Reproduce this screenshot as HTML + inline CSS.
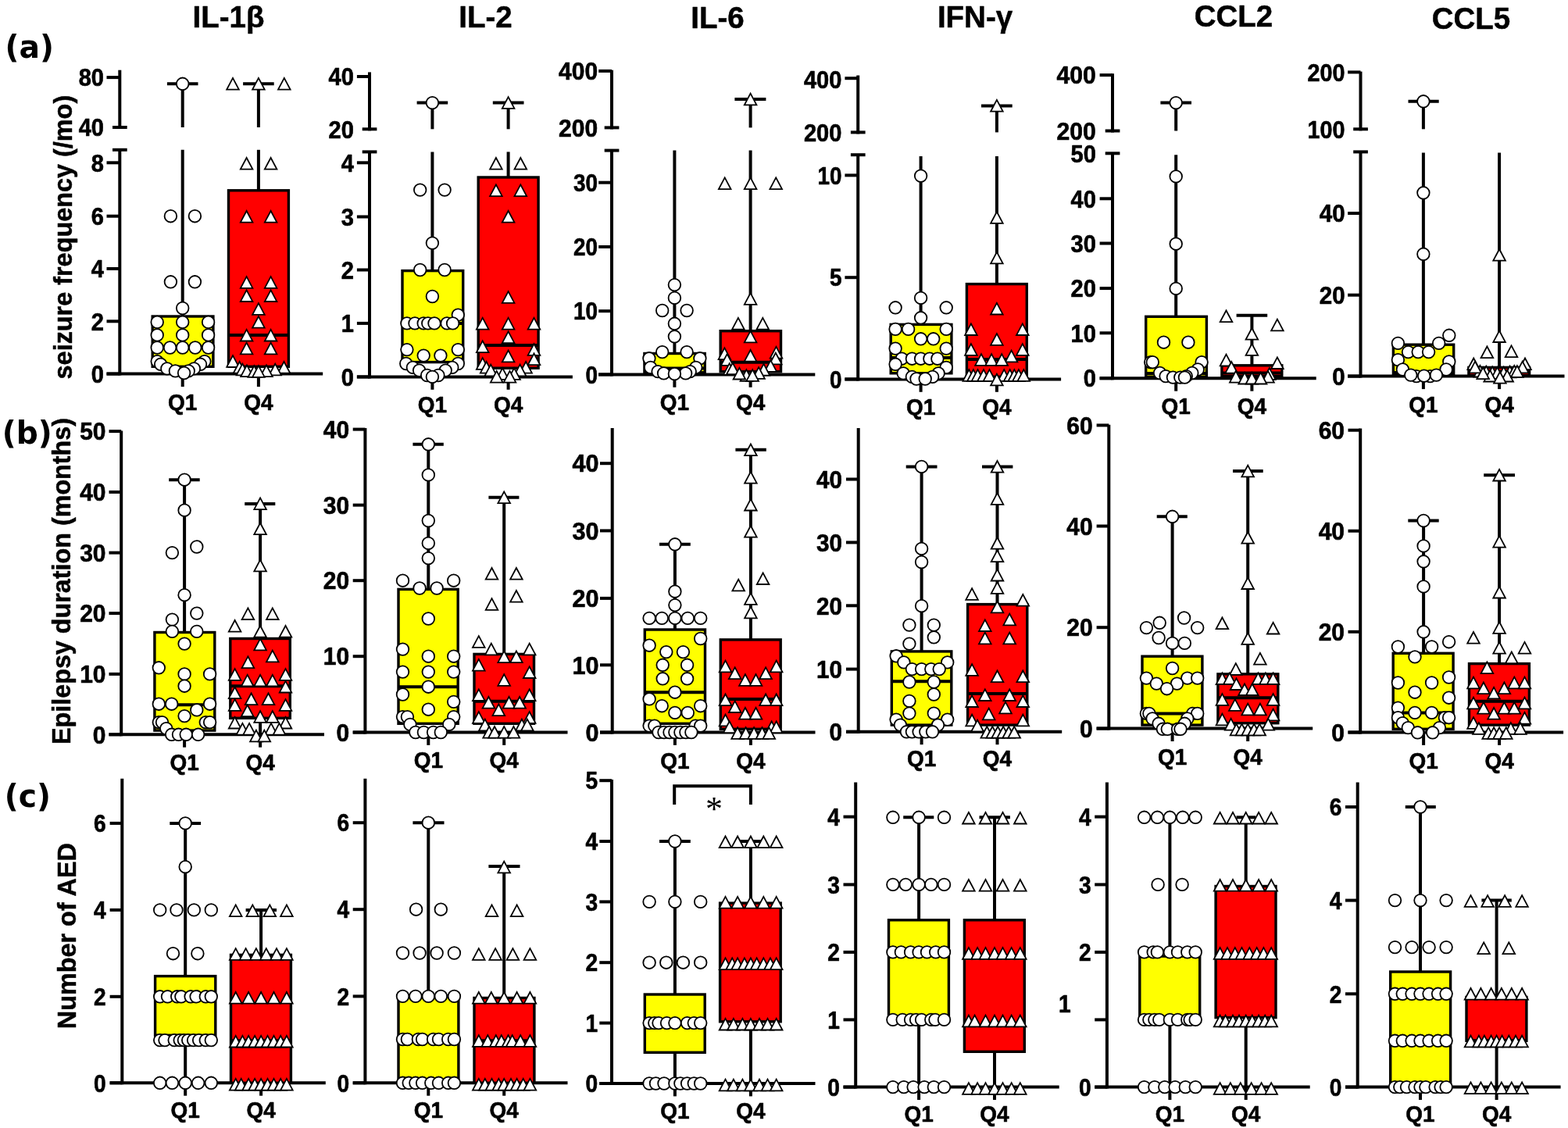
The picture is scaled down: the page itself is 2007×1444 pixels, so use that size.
<!DOCTYPE html>
<html lang="en">
<head>
<meta charset="utf-8">
<title>Cytokine quartile comparison: seizure frequency, epilepsy duration, number of AED</title>
<style>
html,body{margin:0;padding:0;background:#fff;}
body{width:2007px;height:1444px;overflow:hidden;}
svg{display:block;}
text.l{font-family:"Liberation Sans",sans-serif;font-weight:700;stroke:#000;stroke-width:.5px;stroke-linejoin:round;}
text.k{stroke-width:.65px;}
text.s{font-family:"Liberation Serif","DejaVu Serif",serif;font-weight:400;}
text.d{font-family:"DejaVu Sans","Liberation Sans",sans-serif;font-weight:700;}
</style>
</head>
<body>
<svg width="2007" height="1444" viewBox="0 0 2007 1444" role="img" aria-label="Box plots of seizure frequency, epilepsy duration and number of AED for Q1 versus Q4 of six cytokines">
<g stroke="#000" fill="none" stroke-linecap="butt">
<line x1="153.3" y1="89.7" x2="153.3" y2="165" stroke-width="4"/><line x1="153.3" y1="191.8" x2="153.3" y2="480.6" stroke-width="4"/><line x1="136.5" y1="99.1" x2="153.3" y2="99.1" stroke-width="4"/><line x1="144" y1="163" x2="162.7" y2="163" stroke-width="4"/><line x1="144" y1="191.8" x2="162.7" y2="191.8" stroke-width="4"/><line x1="136.5" y1="208.3" x2="153.3" y2="208.3" stroke-width="4"/><line x1="136.5" y1="276.7" x2="153.3" y2="276.7" stroke-width="4"/><line x1="136.5" y1="344" x2="153.3" y2="344" stroke-width="4"/><line x1="136.5" y1="411.3" x2="153.3" y2="411.3" stroke-width="4"/><line x1="136.5" y1="478.6" x2="153.3" y2="478.6" stroke-width="4"/><line x1="136.5" y1="478.6" x2="413.2" y2="478.6" stroke-width="4"/><line x1="233.7" y1="478.6" x2="233.7" y2="495.1" stroke-width="4"/><line x1="330.9" y1="478.6" x2="330.9" y2="495.1" stroke-width="4"/>
<line x1="473" y1="92.4" x2="473" y2="167.3" stroke-width="4"/><line x1="473" y1="194.4" x2="473" y2="484.4" stroke-width="4"/><line x1="456.9" y1="98" x2="473" y2="98" stroke-width="4"/><line x1="463.7" y1="165.3" x2="482.4" y2="165.3" stroke-width="4"/><line x1="463.7" y1="194.4" x2="482.4" y2="194.4" stroke-width="4"/><line x1="456.9" y1="208.3" x2="473" y2="208.3" stroke-width="4"/><line x1="456.9" y1="277.5" x2="473" y2="277.5" stroke-width="4"/><line x1="456.9" y1="345.5" x2="473" y2="345.5" stroke-width="4"/><line x1="456.9" y1="413.9" x2="473" y2="413.9" stroke-width="4"/><line x1="456.9" y1="482.4" x2="473" y2="482.4" stroke-width="4"/><line x1="456.9" y1="482.4" x2="732.9" y2="482.4" stroke-width="4"/><line x1="553.4" y1="482.4" x2="553.4" y2="498.8" stroke-width="4"/><line x1="650.6" y1="482.4" x2="650.6" y2="498.8" stroke-width="4"/>
<line x1="783" y1="89.7" x2="783" y2="165.4" stroke-width="4"/><line x1="783" y1="192.6" x2="783" y2="481.4" stroke-width="4"/><line x1="766.2" y1="90.9" x2="783" y2="90.9" stroke-width="4"/><line x1="773.7" y1="163.4" x2="792.4" y2="163.4" stroke-width="4"/><line x1="773.7" y1="192.6" x2="792.4" y2="192.6" stroke-width="4"/><line x1="766.2" y1="233.7" x2="783" y2="233.7" stroke-width="4"/><line x1="766.2" y1="316" x2="783" y2="316" stroke-width="4"/><line x1="766.2" y1="398.2" x2="783" y2="398.2" stroke-width="4"/><line x1="766.2" y1="479.4" x2="783" y2="479.4" stroke-width="4"/><line x1="766.2" y1="479.4" x2="1043.3" y2="479.4" stroke-width="4"/><line x1="863.4" y1="479.4" x2="863.4" y2="495.8" stroke-width="4"/><line x1="960.6" y1="479.4" x2="960.6" y2="495.8" stroke-width="4"/>
<line x1="1098.2" y1="96.5" x2="1098.2" y2="171.4" stroke-width="4"/><line x1="1098.2" y1="198.2" x2="1098.2" y2="487.4" stroke-width="4"/><line x1="1081.4" y1="100.2" x2="1098.2" y2="100.2" stroke-width="4"/><line x1="1088.9" y1="169.4" x2="1107.6" y2="169.4" stroke-width="4"/><line x1="1088.9" y1="198.2" x2="1107.6" y2="198.2" stroke-width="4"/><line x1="1081.4" y1="224.4" x2="1098.2" y2="224.4" stroke-width="4"/><line x1="1081.4" y1="355.2" x2="1098.2" y2="355.2" stroke-width="4"/><line x1="1081.4" y1="485.4" x2="1098.2" y2="485.4" stroke-width="4"/><line x1="1081.4" y1="485.4" x2="1358.1" y2="485.4" stroke-width="4"/><line x1="1178.6" y1="485.4" x2="1178.6" y2="501.8" stroke-width="4"/><line x1="1275.9" y1="485.4" x2="1275.9" y2="501.8" stroke-width="4"/>
<line x1="1424" y1="94.2" x2="1424" y2="169.5" stroke-width="4"/><line x1="1424" y1="196.3" x2="1424" y2="486.2" stroke-width="4"/><line x1="1407.6" y1="96.1" x2="1424" y2="96.1" stroke-width="4"/><line x1="1414.7" y1="167.5" x2="1433.4" y2="167.5" stroke-width="4"/><line x1="1414.7" y1="196.3" x2="1433.4" y2="196.3" stroke-width="4"/><line x1="1407.6" y1="254.3" x2="1424" y2="254.3" stroke-width="4"/><line x1="1407.6" y1="311.5" x2="1424" y2="311.5" stroke-width="4"/><line x1="1407.6" y1="369.1" x2="1424" y2="369.1" stroke-width="4"/><line x1="1407.6" y1="426.3" x2="1424" y2="426.3" stroke-width="4"/><line x1="1407.6" y1="484.2" x2="1424" y2="484.2" stroke-width="4"/><line x1="1407.6" y1="484.2" x2="1684.7" y2="484.2" stroke-width="4"/><line x1="1505.2" y1="484.2" x2="1505.2" y2="500.7" stroke-width="4"/><line x1="1602.4" y1="484.2" x2="1602.4" y2="500.7" stroke-width="4"/>
<line x1="1741.5" y1="91.6" x2="1741.5" y2="167.3" stroke-width="4"/><line x1="1741.5" y1="194.4" x2="1741.5" y2="483.6" stroke-width="4"/><line x1="1725.1" y1="92.4" x2="1741.5" y2="92.4" stroke-width="4"/><line x1="1732.2" y1="165.3" x2="1750.9" y2="165.3" stroke-width="4"/><line x1="1732.2" y1="194.4" x2="1750.9" y2="194.4" stroke-width="4"/><line x1="1725.1" y1="273" x2="1741.5" y2="273" stroke-width="4"/><line x1="1725.1" y1="377.7" x2="1741.5" y2="377.7" stroke-width="4"/><line x1="1725.1" y1="481.6" x2="1741.5" y2="481.6" stroke-width="4"/><line x1="1725.1" y1="481.6" x2="2002.5" y2="481.6" stroke-width="4"/><line x1="1821.9" y1="481.6" x2="1821.9" y2="498.1" stroke-width="4"/><line x1="1919.1" y1="481.6" x2="1919.1" y2="498.1" stroke-width="4"/>
<line x1="155.2" y1="551.4" x2="155.2" y2="942.3" stroke-width="4"/><line x1="139.5" y1="552.1" x2="155.2" y2="552.1" stroke-width="4"/><line x1="139.5" y1="629.9" x2="155.2" y2="629.9" stroke-width="4"/><line x1="139.5" y1="707.6" x2="155.2" y2="707.6" stroke-width="4"/><line x1="139.5" y1="785.1" x2="155.2" y2="785.1" stroke-width="4"/><line x1="139.5" y1="862.9" x2="155.2" y2="862.9" stroke-width="4"/><line x1="139.5" y1="940.3" x2="155.2" y2="940.3" stroke-width="4"/><line x1="139.5" y1="940.3" x2="415" y2="940.3" stroke-width="4"/><line x1="236.1" y1="940.3" x2="236.1" y2="956.7" stroke-width="4"/><line x1="333.1" y1="940.3" x2="333.1" y2="956.7" stroke-width="4"/>
<line x1="467.4" y1="547.9" x2="467.4" y2="939.5" stroke-width="4"/><line x1="451.7" y1="549.6" x2="467.4" y2="549.6" stroke-width="4"/><line x1="451.7" y1="646.6" x2="467.4" y2="646.6" stroke-width="4"/><line x1="451.7" y1="743.2" x2="467.4" y2="743.2" stroke-width="4"/><line x1="451.7" y1="840.2" x2="467.4" y2="840.2" stroke-width="4"/><line x1="451.7" y1="937.5" x2="467.4" y2="937.5" stroke-width="4"/><line x1="451.7" y1="937.5" x2="726.5" y2="937.5" stroke-width="4"/><line x1="548.3" y1="937.5" x2="548.3" y2="953.9" stroke-width="4"/><line x1="645.2" y1="937.5" x2="645.2" y2="953.9" stroke-width="4"/>
<line x1="783.7" y1="547.9" x2="783.7" y2="939.5" stroke-width="4"/><line x1="768" y1="593.2" x2="783.7" y2="593.2" stroke-width="4"/><line x1="768" y1="679.4" x2="783.7" y2="679.4" stroke-width="4"/><line x1="768" y1="765.9" x2="783.7" y2="765.9" stroke-width="4"/><line x1="768" y1="851.3" x2="783.7" y2="851.3" stroke-width="4"/><line x1="768" y1="937.5" x2="783.7" y2="937.5" stroke-width="4"/><line x1="768" y1="937.5" x2="1043.5" y2="937.5" stroke-width="4"/><line x1="863.9" y1="937.5" x2="863.9" y2="953.9" stroke-width="4"/><line x1="960.9" y1="937.5" x2="960.9" y2="953.9" stroke-width="4"/>
<line x1="1098.7" y1="547.9" x2="1098.7" y2="938.8" stroke-width="4"/><line x1="1083" y1="613.5" x2="1098.7" y2="613.5" stroke-width="4"/><line x1="1083" y1="694.4" x2="1098.7" y2="694.4" stroke-width="4"/><line x1="1083" y1="775.3" x2="1098.7" y2="775.3" stroke-width="4"/><line x1="1083" y1="856.6" x2="1098.7" y2="856.6" stroke-width="4"/><line x1="1083" y1="936.8" x2="1098.7" y2="936.8" stroke-width="4"/><line x1="1083" y1="936.8" x2="1359.2" y2="936.8" stroke-width="4"/><line x1="1179.6" y1="936.8" x2="1179.6" y2="953.2" stroke-width="4"/><line x1="1276.5" y1="936.8" x2="1276.5" y2="953.2" stroke-width="4"/>
<line x1="1419.3" y1="543.7" x2="1419.3" y2="934.6" stroke-width="4"/><line x1="1403.6" y1="544.4" x2="1419.3" y2="544.4" stroke-width="4"/><line x1="1403.6" y1="673.5" x2="1419.3" y2="673.5" stroke-width="4"/><line x1="1403.6" y1="803.2" x2="1419.3" y2="803.2" stroke-width="4"/><line x1="1403.6" y1="932.6" x2="1419.3" y2="932.6" stroke-width="4"/><line x1="1403.6" y1="932.6" x2="1680.2" y2="932.6" stroke-width="4"/><line x1="1500.6" y1="932.6" x2="1500.6" y2="949" stroke-width="4"/><line x1="1597.2" y1="932.6" x2="1597.2" y2="949" stroke-width="4"/>
<line x1="1741.2" y1="548.6" x2="1741.2" y2="939.5" stroke-width="4"/><line x1="1725.5" y1="550.7" x2="1741.2" y2="550.7" stroke-width="4"/><line x1="1725.5" y1="679.7" x2="1741.2" y2="679.7" stroke-width="4"/><line x1="1725.5" y1="808.8" x2="1741.2" y2="808.8" stroke-width="4"/><line x1="1725.5" y1="937.5" x2="1741.2" y2="937.5" stroke-width="4"/><line x1="1725.5" y1="937.5" x2="2001.1" y2="937.5" stroke-width="4"/><line x1="1822.1" y1="937.5" x2="1822.1" y2="953.9" stroke-width="4"/><line x1="1919.1" y1="937.5" x2="1919.1" y2="953.9" stroke-width="4"/>
<line x1="156.3" y1="996.7" x2="156.3" y2="1388.3" stroke-width="4"/><line x1="140.6" y1="1053.9" x2="156.3" y2="1053.9" stroke-width="4"/><line x1="140.6" y1="1164.9" x2="156.3" y2="1164.9" stroke-width="4"/><line x1="140.6" y1="1275.8" x2="156.3" y2="1275.8" stroke-width="4"/><line x1="140.6" y1="1386.3" x2="156.3" y2="1386.3" stroke-width="4"/><line x1="140.6" y1="1386.3" x2="416.8" y2="1386.3" stroke-width="4"/><line x1="237.2" y1="1386.3" x2="237.2" y2="1402.7" stroke-width="4"/><line x1="334.1" y1="1386.3" x2="334.1" y2="1402.7" stroke-width="4"/>
<line x1="467.4" y1="996.7" x2="467.4" y2="1388.3" stroke-width="4"/><line x1="451.7" y1="1053.2" x2="467.4" y2="1053.2" stroke-width="4"/><line x1="451.7" y1="1164.2" x2="467.4" y2="1164.2" stroke-width="4"/><line x1="451.7" y1="1275.4" x2="467.4" y2="1275.4" stroke-width="4"/><line x1="451.7" y1="1386.3" x2="467.4" y2="1386.3" stroke-width="4"/><line x1="451.7" y1="1386.3" x2="726.5" y2="1386.3" stroke-width="4"/><line x1="548.3" y1="1386.3" x2="548.3" y2="1402.7" stroke-width="4"/><line x1="645.2" y1="1386.3" x2="645.2" y2="1402.7" stroke-width="4"/>
<line x1="783" y1="998.1" x2="783" y2="1389" stroke-width="4"/><line x1="767.3" y1="999.2" x2="783" y2="999.2" stroke-width="4"/><line x1="767.3" y1="1077" x2="783" y2="1077" stroke-width="4"/><line x1="767.3" y1="1154.4" x2="783" y2="1154.4" stroke-width="4"/><line x1="767.3" y1="1232.2" x2="783" y2="1232.2" stroke-width="4"/><line x1="767.3" y1="1309.6" x2="783" y2="1309.6" stroke-width="4"/><line x1="767.3" y1="1387" x2="783" y2="1387" stroke-width="4"/><line x1="767.3" y1="1387" x2="1043.5" y2="1387" stroke-width="4"/><line x1="863.9" y1="1387" x2="863.9" y2="1403.4" stroke-width="4"/><line x1="960.9" y1="1387" x2="960.9" y2="1403.4" stroke-width="4"/>
<line x1="1095.2" y1="1001.6" x2="1095.2" y2="1393.6" stroke-width="4"/><line x1="1079.5" y1="1045.6" x2="1095.2" y2="1045.6" stroke-width="4"/><line x1="1079.5" y1="1132.4" x2="1095.2" y2="1132.4" stroke-width="4"/><line x1="1079.5" y1="1218.9" x2="1095.2" y2="1218.9" stroke-width="4"/><line x1="1079.5" y1="1305.4" x2="1095.2" y2="1305.4" stroke-width="4"/><line x1="1079.5" y1="1391.6" x2="1095.2" y2="1391.6" stroke-width="4"/><line x1="1079.5" y1="1391.6" x2="1355.7" y2="1391.6" stroke-width="4"/><line x1="1176.1" y1="1391.6" x2="1176.1" y2="1408" stroke-width="4"/><line x1="1273" y1="1391.6" x2="1273" y2="1408" stroke-width="4"/>
<line x1="1416.9" y1="1001.6" x2="1416.9" y2="1393.6" stroke-width="4"/><line x1="1401.2" y1="1045.6" x2="1416.9" y2="1045.6" stroke-width="4"/><line x1="1401.2" y1="1132.4" x2="1416.9" y2="1132.4" stroke-width="4"/><line x1="1401.2" y1="1218.9" x2="1416.9" y2="1218.9" stroke-width="4"/><line x1="1401.2" y1="1305.4" x2="1416.9" y2="1305.4" stroke-width="4"/><line x1="1401.2" y1="1391.6" x2="1416.9" y2="1391.6" stroke-width="4"/><line x1="1401.2" y1="1391.6" x2="1676.7" y2="1391.6" stroke-width="4"/><line x1="1497.4" y1="1391.6" x2="1497.4" y2="1408" stroke-width="4"/><line x1="1594.7" y1="1391.6" x2="1594.7" y2="1408" stroke-width="4"/>
<line x1="1737.7" y1="1001.6" x2="1737.7" y2="1393.6" stroke-width="4"/><line x1="1722" y1="1033" x2="1737.7" y2="1033" stroke-width="4"/><line x1="1722" y1="1152.6" x2="1737.7" y2="1152.6" stroke-width="4"/><line x1="1722" y1="1272.3" x2="1737.7" y2="1272.3" stroke-width="4"/><line x1="1722" y1="1391.6" x2="1737.7" y2="1391.6" stroke-width="4"/><line x1="1722" y1="1391.6" x2="1997.6" y2="1391.6" stroke-width="4"/><line x1="1818" y1="1391.6" x2="1818" y2="1408" stroke-width="4"/><line x1="1915.6" y1="1391.6" x2="1915.6" y2="1408" stroke-width="4"/>
<path d="M863.2 1029.9V1006.2H960.9V1029.9" stroke-width="4"/>
</g>
<g stroke="#000">
<line x1="233.7" y1="405" x2="233.7" y2="191.8" stroke-width="4"/><line x1="233.7" y1="163" x2="233.7" y2="107.3" stroke-width="4"/><line x1="213.9" y1="107.3" x2="253.5" y2="107.3" stroke-width="4"/><rect x="195.2" y="405" width="77.7" height="64.3" fill="#ffff00" stroke-width="3.4"/><line x1="195.2" y1="445" x2="272.9" y2="445" stroke-width="4"/>
<line x1="330.9" y1="243.8" x2="330.9" y2="191.8" stroke-width="4"/><line x1="330.9" y1="163" x2="330.9" y2="107.3" stroke-width="4"/><line x1="311.1" y1="107.3" x2="350.7" y2="107.3" stroke-width="4"/><rect x="292.5" y="243.8" width="76.9" height="225.5" fill="#ff0000" stroke-width="3.4"/><line x1="292.5" y1="428.9" x2="369.4" y2="428.9" stroke-width="4"/>
<line x1="553.4" y1="346.6" x2="553.4" y2="194.4" stroke-width="4"/><line x1="553.4" y1="165.3" x2="553.4" y2="131.6" stroke-width="4"/><line x1="533.6" y1="131.6" x2="573.2" y2="131.6" stroke-width="4"/><rect x="515" y="346.6" width="77.7" height="117" fill="#ffff00" stroke-width="3.4"/><line x1="515" y1="413.9" x2="592.6" y2="413.9" stroke-width="4"/>
<line x1="650.6" y1="227" x2="650.6" y2="194.4" stroke-width="4"/><line x1="650.6" y1="165.3" x2="650.6" y2="131.6" stroke-width="4"/><line x1="630.8" y1="131.6" x2="670.5" y2="131.6" stroke-width="4"/><rect x="612.2" y="227" width="76.9" height="244.2" fill="#ff0000" stroke-width="3.4"/><line x1="612.2" y1="442" x2="689.1" y2="442" stroke-width="4"/>
<line x1="863.4" y1="452.5" x2="863.4" y2="192.6" stroke-width="4"/><rect x="824.9" y="452.5" width="77.3" height="24.3" fill="#ffff00" stroke-width="3.4"/><line x1="824.9" y1="471.5" x2="902.2" y2="471.5" stroke-width="4"/>
<line x1="960.6" y1="423.7" x2="960.6" y2="192.6" stroke-width="4"/><line x1="960.6" y1="163.4" x2="960.6" y2="127.1" stroke-width="4"/><line x1="940.4" y1="127.1" x2="980.4" y2="127.1" stroke-width="4"/><rect x="922.2" y="423.7" width="77.3" height="52" fill="#ff0000" stroke-width="3.4"/><line x1="922.2" y1="463.7" x2="999.5" y2="463.7" stroke-width="4"/>
<line x1="1178.6" y1="415.4" x2="1178.6" y2="200.1" stroke-width="4"/><rect x="1140.2" y="415.4" width="77.7" height="62.4" fill="#ffff00" stroke-width="3.4"/><line x1="1140.2" y1="458.1" x2="1217.8" y2="458.1" stroke-width="4"/>
<line x1="1275.9" y1="363.6" x2="1275.9" y2="200.1" stroke-width="4"/><line x1="1275.9" y1="169.4" x2="1275.9" y2="135.4" stroke-width="4"/><line x1="1256" y1="135.4" x2="1295.7" y2="135.4" stroke-width="4"/><rect x="1237.4" y="363.6" width="76.9" height="118.7" fill="#ff0000" stroke-width="3.4"/><line x1="1237.4" y1="459.9" x2="1314.3" y2="459.9" stroke-width="4"/>
<line x1="1505.2" y1="405" x2="1505.2" y2="198.2" stroke-width="4"/><line x1="1505.2" y1="167.5" x2="1505.2" y2="131.6" stroke-width="4"/><line x1="1485.4" y1="131.6" x2="1525" y2="131.6" stroke-width="4"/><rect x="1466.7" y="405.3" width="77.7" height="77" fill="#ffff00" stroke-width="3.4"/><line x1="1466.7" y1="477.9" x2="1544.4" y2="477.9" stroke-width="4"/>
<line x1="1602.4" y1="467.8" x2="1602.4" y2="403.8" stroke-width="4"/><line x1="1582.6" y1="403.8" x2="1622.2" y2="403.8" stroke-width="4"/><rect x="1563.9" y="467.8" width="76.9" height="13.8" fill="#ff0000" stroke-width="3.4"/><line x1="1563.9" y1="477.5" x2="1640.9" y2="477.5" stroke-width="4"/>
<line x1="1821.9" y1="441.2" x2="1821.9" y2="195.6" stroke-width="4"/><line x1="1821.9" y1="165.3" x2="1821.9" y2="129.8" stroke-width="4"/><line x1="1802.5" y1="129.8" x2="1841.7" y2="129.8" stroke-width="4"/><rect x="1783.4" y="441.2" width="77.3" height="38.5" fill="#ffff00" stroke-width="3.4"/><line x1="1783.4" y1="477.1" x2="1860.7" y2="477.1" stroke-width="4"/>
<line x1="1919.1" y1="470.4" x2="1919.1" y2="195.6" stroke-width="4"/><rect x="1879.9" y="470.4" width="77.7" height="10.1" fill="#ff0000" stroke-width="3.4"/><line x1="1879.9" y1="475.6" x2="1957.6" y2="475.6" stroke-width="4"/>
<line x1="236.1" y1="809.5" x2="236.1" y2="614.2" stroke-width="4"/><line x1="216.2" y1="614.2" x2="255.7" y2="614.2" stroke-width="4"/><rect x="197.9" y="809.5" width="76.9" height="125.6" fill="#ffff00" stroke-width="3.4"/><line x1="197.9" y1="902.3" x2="274.7" y2="902.3" stroke-width="4"/>
<line x1="333.1" y1="817.5" x2="333.1" y2="644.9" stroke-width="4"/><line x1="333.1" y1="919.4" x2="333.1" y2="940.3" stroke-width="4"/><line x1="313.2" y1="644.9" x2="352.3" y2="644.9" stroke-width="4"/><rect x="294.8" y="817.5" width="76.5" height="101.8" fill="#ff0000" stroke-width="3.4"/><line x1="294.8" y1="878.2" x2="371.3" y2="878.2" stroke-width="4"/>
<line x1="548.3" y1="754.4" x2="548.3" y2="568.8" stroke-width="4"/><line x1="528.4" y1="568.8" x2="567.8" y2="568.8" stroke-width="4"/><rect x="510" y="754.4" width="76.2" height="171.9" fill="#ffff00" stroke-width="3.4"/><line x1="510" y1="879.2" x2="586.2" y2="879.2" stroke-width="4"/>
<line x1="645.2" y1="837.4" x2="645.2" y2="636.8" stroke-width="4"/><line x1="625.4" y1="636.8" x2="664.4" y2="636.8" stroke-width="4"/><rect x="607" y="837.4" width="76.5" height="88.9" fill="#ff0000" stroke-width="3.4"/><line x1="607" y1="897.7" x2="683.5" y2="897.7" stroke-width="4"/>
<line x1="863.9" y1="806" x2="863.9" y2="696.8" stroke-width="4"/><line x1="844" y1="696.8" x2="883.8" y2="696.8" stroke-width="4"/><rect x="825.3" y="806" width="77.2" height="120.3" fill="#ffff00" stroke-width="3.4"/><line x1="825.3" y1="886.2" x2="902.5" y2="886.2" stroke-width="4"/>
<line x1="960.9" y1="818.9" x2="960.9" y2="575.8" stroke-width="4"/><line x1="941.4" y1="575.8" x2="980.8" y2="575.8" stroke-width="4"/><rect x="922.3" y="818.9" width="76.9" height="114.4" fill="#ff0000" stroke-width="3.4"/><line x1="922.3" y1="894.9" x2="999.2" y2="894.9" stroke-width="4"/>
<line x1="1179.6" y1="833.9" x2="1179.6" y2="597.4" stroke-width="4"/><line x1="1159.7" y1="597.4" x2="1199.5" y2="597.4" stroke-width="4"/><rect x="1141.3" y="833.9" width="76.5" height="94.2" fill="#ffff00" stroke-width="3.4"/><line x1="1141.3" y1="872.3" x2="1217.8" y2="872.3" stroke-width="4"/>
<line x1="1276.5" y1="773.6" x2="1276.5" y2="597.4" stroke-width="4"/><line x1="1257" y1="597.4" x2="1296.4" y2="597.4" stroke-width="4"/><rect x="1238.6" y="773.6" width="76.2" height="154.5" fill="#ff0000" stroke-width="3.4"/><line x1="1238.6" y1="888" x2="1314.8" y2="888" stroke-width="4"/>
<line x1="1500.6" y1="840.2" x2="1500.6" y2="661.3" stroke-width="4"/><line x1="1480.7" y1="661.3" x2="1519.8" y2="661.3" stroke-width="4"/><rect x="1462" y="840.2" width="76.9" height="87.9" fill="#ffff00" stroke-width="3.4"/><line x1="1462" y1="913.4" x2="1538.8" y2="913.4" stroke-width="4"/>
<line x1="1597.2" y1="862.9" x2="1597.2" y2="603" stroke-width="4"/><line x1="1578" y1="603" x2="1616.7" y2="603" stroke-width="4"/><rect x="1558.9" y="862.9" width="76.9" height="62.8" fill="#ff0000" stroke-width="3.4"/><line x1="1558.9" y1="893.2" x2="1635.8" y2="893.2" stroke-width="4"/>
<line x1="1822.1" y1="836.3" x2="1822.1" y2="666.5" stroke-width="4"/><line x1="1802.3" y1="666.5" x2="1841.7" y2="666.5" stroke-width="4"/><rect x="1783.2" y="836.3" width="76.9" height="97" fill="#ffff00" stroke-width="3.4"/><line x1="1783.2" y1="912.4" x2="1860.1" y2="912.4" stroke-width="4"/>
<line x1="1919.1" y1="849.6" x2="1919.1" y2="608.2" stroke-width="4"/><line x1="1899.2" y1="608.2" x2="1939" y2="608.2" stroke-width="4"/><rect x="1880.5" y="849.6" width="76.9" height="78.5" fill="#ff0000" stroke-width="3.4"/><line x1="1880.5" y1="897.7" x2="1957.4" y2="897.7" stroke-width="4"/>
<line x1="237.2" y1="1249.6" x2="237.2" y2="1053.9" stroke-width="4"/><line x1="237.2" y1="1325.3" x2="237.2" y2="1386.3" stroke-width="4"/><line x1="217.3" y1="1053.9" x2="257.1" y2="1053.9" stroke-width="4"/><rect x="198.6" y="1249.6" width="77.2" height="75.7" fill="#ffff00" stroke-width="3.4"/><line x1="198.6" y1="1275.8" x2="275.8" y2="1275.8" stroke-width="4"/>
<line x1="334.1" y1="1222.4" x2="334.1" y2="1164.9" stroke-width="4"/><line x1="314.6" y1="1164.9" x2="354" y2="1164.9" stroke-width="4"/><rect x="295.5" y="1222.4" width="76.9" height="163.9" fill="#ff0000" stroke-width="3.4"/><line x1="295.5" y1="1332.3" x2="372.4" y2="1332.3" stroke-width="4"/>
<line x1="548.3" y1="1275.8" x2="548.3" y2="1053.2" stroke-width="4"/><line x1="528.4" y1="1053.2" x2="568.5" y2="1053.2" stroke-width="4"/><rect x="510" y="1275.8" width="76.9" height="110.6" fill="#ffff00" stroke-width="3.4"/><line x1="510" y1="1330.5" x2="586.9" y2="1330.5" stroke-width="4"/>
<line x1="645.2" y1="1277.5" x2="645.2" y2="1109" stroke-width="4"/><line x1="625.4" y1="1109" x2="665.5" y2="1109" stroke-width="4"/><rect x="607" y="1277.5" width="76.9" height="108.8" fill="#ff0000" stroke-width="3.4"/><line x1="607" y1="1332.3" x2="683.9" y2="1332.3" stroke-width="4"/>
<line x1="863.9" y1="1273" x2="863.9" y2="1077" stroke-width="4"/><line x1="863.9" y1="1347.3" x2="863.9" y2="1387" stroke-width="4"/><line x1="844" y1="1077" x2="883.8" y2="1077" stroke-width="4"/><rect x="825.3" y="1273" width="76.9" height="74.3" fill="#ffff00" stroke-width="3.4"/><line x1="825.3" y1="1309.6" x2="902.2" y2="1309.6" stroke-width="4"/>
<line x1="960.9" y1="1156.1" x2="960.9" y2="1077" stroke-width="4"/><line x1="960.9" y1="1307.9" x2="960.9" y2="1387" stroke-width="4"/><line x1="941.4" y1="1077" x2="980.8" y2="1077" stroke-width="4"/><rect x="921.6" y="1156.1" width="77.6" height="151.7" fill="#ff0000" stroke-width="3.4"/><line x1="921.6" y1="1239.8" x2="999.2" y2="1239.8" stroke-width="4"/>
<line x1="1176.1" y1="1177.8" x2="1176.1" y2="1046.3" stroke-width="4"/><line x1="1176.1" y1="1302.6" x2="1176.1" y2="1391.6" stroke-width="4"/><line x1="1156.2" y1="1046.3" x2="1195.3" y2="1046.3" stroke-width="4"/><rect x="1137.5" y="1177.8" width="76.9" height="124.9" fill="#ffff00" stroke-width="3.4"/><line x1="1137.5" y1="1218.9" x2="1214.3" y2="1218.9" stroke-width="4"/>
<line x1="1273" y1="1177.8" x2="1273" y2="1046.3" stroke-width="4"/><line x1="1273" y1="1346.2" x2="1273" y2="1391.6" stroke-width="4"/><line x1="1253.5" y1="1046.3" x2="1292.9" y2="1046.3" stroke-width="4"/><rect x="1234.4" y="1177.8" width="76.9" height="168.5" fill="#ff0000" stroke-width="3.4"/><line x1="1234.4" y1="1225.9" x2="1311.3" y2="1225.9" stroke-width="4"/>
<line x1="1497.4" y1="1224.1" x2="1497.4" y2="1046.3" stroke-width="4"/><line x1="1497.4" y1="1302.6" x2="1497.4" y2="1391.6" stroke-width="4"/><rect x="1458.8" y="1224.1" width="76.9" height="78.5" fill="#ffff00" stroke-width="3.4"/><line x1="1458.8" y1="1305.4" x2="1535.7" y2="1305.4" stroke-width="4"/>
<line x1="1594.7" y1="1134.5" x2="1594.7" y2="1046.3" stroke-width="4"/><line x1="1594.7" y1="1302.6" x2="1594.7" y2="1391.6" stroke-width="4"/><line x1="1582.5" y1="1046.3" x2="1607" y2="1046.3" stroke-width="4"/><rect x="1556.1" y="1134.5" width="76.9" height="168.1" fill="#ff0000" stroke-width="3.4"/><line x1="1556.1" y1="1225.9" x2="1633" y2="1225.9" stroke-width="4"/>
<line x1="1818" y1="1244" x2="1818" y2="1033" stroke-width="4"/><line x1="1798.8" y1="1033" x2="1837.8" y2="1033" stroke-width="4"/><rect x="1779.7" y="1244" width="76.9" height="147.5" fill="#ffff00" stroke-width="3.4"/><line x1="1779.7" y1="1332.3" x2="1856.6" y2="1332.3" stroke-width="4"/>
<line x1="1915.6" y1="1276.5" x2="1915.6" y2="1152.6" stroke-width="4"/><line x1="1915.6" y1="1332.3" x2="1915.6" y2="1391.6" stroke-width="4"/><line x1="1896.4" y1="1152.6" x2="1934.8" y2="1152.6" stroke-width="4"/><rect x="1877" y="1276.5" width="76.9" height="55.8" fill="#ff0000" stroke-width="3.4"/><line x1="1877" y1="1332.3" x2="1953.9" y2="1332.3" stroke-width="4"/>
</g>
<g stroke="#000" stroke-width="1.8" fill="#fff" stroke-linejoin="miter">
<circle cx="233.7" cy="107.3" r="7.8"/><circle cx="218.4" cy="276.7" r="7.8"/><circle cx="249.4" cy="276.7" r="7.8"/><circle cx="218.4" cy="360.8" r="7.8"/><circle cx="249.4" cy="360.8" r="7.8"/><circle cx="233.7" cy="394.5" r="7.8"/><circle cx="201.2" cy="412.4" r="7.8"/><circle cx="233.7" cy="412.4" r="7.8"/><circle cx="266.6" cy="412.4" r="7.8"/><circle cx="201.2" cy="428.9" r="7.8"/><circle cx="233.7" cy="428.9" r="7.8"/><circle cx="266.6" cy="428.9" r="7.8"/><circle cx="201.2" cy="445" r="7.8"/><circle cx="217.6" cy="445" r="7.8"/><circle cx="233.7" cy="445" r="7.8"/><circle cx="249.8" cy="445" r="7.8"/><circle cx="266.6" cy="445" r="7.8"/><circle cx="201.2" cy="462.6" r="7.8"/><circle cx="261.8" cy="462.6" r="7.8"/><circle cx="205.7" cy="466.3" r="7.8"/><circle cx="256.5" cy="466.3" r="7.8"/><circle cx="213.9" cy="471.9" r="7.8"/><circle cx="248.3" cy="471.9" r="7.8"/><circle cx="224.4" cy="474.9" r="7.8"/><circle cx="241.2" cy="474.9" r="7.8"/><circle cx="235.6" cy="477.5" r="7.8"/>
<path d="M298 99.9L305.8 114.6L290.2 114.6Z"/><path d="M330.9 99.9L338.7 114.6L323.1 114.6Z"/><path d="M363.8 99.9L371.6 114.6L356 114.6Z"/><path d="M315.6 202L323.4 216.7L307.8 216.7Z"/><path d="M346.6 202L354.4 216.7L338.8 216.7Z"/><path d="M315.6 270L323.4 284.7L307.8 284.7Z"/><path d="M346.6 270L354.4 284.7L338.8 284.7Z"/><path d="M315.6 354.1L323.4 368.8L307.8 368.8Z"/><path d="M346.6 354.1L354.4 368.8L338.8 368.8Z"/><path d="M315.6 371.3L323.4 386L307.8 386Z"/><path d="M346.6 371.3L354.4 386L338.8 386Z"/><path d="M330.9 388.2L338.7 402.9L323.1 402.9Z"/><path d="M330.9 405L338.7 419.7L323.1 419.7Z"/><path d="M315.6 421.8L323.4 436.5L307.8 436.5Z"/><path d="M346.6 421.8L354.4 436.5L338.8 436.5Z"/><path d="M315.6 438.7L323.4 453.4L307.8 453.4Z"/><path d="M346.6 438.7L354.4 453.4L338.8 453.4Z"/><path d="M298 455.1L305.8 469.8L290.2 469.8Z"/><path d="M306.6 463L314.4 477.7L298.8 477.7Z"/><path d="M363.5 463L371.3 477.7L355.7 477.7Z"/><path d="M310.4 465.6L318.2 480.3L302.6 480.3Z"/><path d="M352.2 465.6L360 480.3L344.4 480.3Z"/><path d="M316 467.4L323.8 482.1L308.2 482.1Z"/><path d="M341 467.4L348.8 482.1L333.2 482.1Z"/><path d="M325.3 468.2L333.1 482.9L317.5 482.9Z"/><path d="M330.9 468.2L338.7 482.9L323.1 482.9Z"/>
<circle cx="553.4" cy="131.6" r="7.8"/><circle cx="537.7" cy="243.1" r="7.8"/><circle cx="569.1" cy="243.1" r="7.8"/><circle cx="553.4" cy="311.1" r="7.8"/><circle cx="537.7" cy="345.5" r="7.8"/><circle cx="569.1" cy="345.5" r="7.8"/><circle cx="553.4" cy="379.5" r="7.8"/><circle cx="586.3" cy="403.1" r="7.8"/><circle cx="520.9" cy="413.9" r="7.8"/><circle cx="531" cy="413.9" r="7.8"/><circle cx="542.2" cy="413.9" r="7.8"/><circle cx="547.8" cy="413.9" r="7.8"/><circle cx="556" cy="413.9" r="7.8"/><circle cx="572.1" cy="413.9" r="7.8"/><circle cx="579.6" cy="413.9" r="7.8"/><circle cx="520.9" cy="447.6" r="7.8"/><circle cx="586.3" cy="447.6" r="7.8"/><circle cx="542.2" cy="455.1" r="7.8"/><circle cx="563.9" cy="455.1" r="7.8"/><circle cx="519.8" cy="465.5" r="7.8"/><circle cx="586.3" cy="465.5" r="7.8"/><circle cx="528.4" cy="470.4" r="7.8"/><circle cx="578.8" cy="470.4" r="7.8"/><circle cx="536.6" cy="474.1" r="7.8"/><circle cx="570.2" cy="474.1" r="7.8"/><circle cx="546.7" cy="480.5" r="7.8"/><circle cx="560.9" cy="480.5" r="7.8"/><circle cx="553.4" cy="482.4" r="7.8"/>
<path d="M650.6 124.2L658.4 138.9L642.8 138.9Z"/><path d="M634.9 202L642.7 216.7L627.1 216.7Z"/><path d="M666.3 202L674.1 216.7L658.5 216.7Z"/><path d="M634.9 236.4L642.7 251.1L627.1 251.1Z"/><path d="M666.3 236.4L674.1 251.1L658.5 251.1Z"/><path d="M650.6 270L658.4 284.7L642.8 284.7Z"/><path d="M650.6 373.2L658.4 387.9L642.8 387.9Z"/><path d="M617.7 406.9L625.5 421.6L609.9 421.6Z"/><path d="M650.6 406.9L658.4 421.6L642.8 421.6Z"/><path d="M683.5 406.9L691.3 421.6L675.7 421.6Z"/><path d="M650.6 424.4L658.4 439.1L642.8 439.1Z"/><path d="M617.7 436.4L625.5 451.1L609.9 451.1Z"/><path d="M683.5 440.1L691.3 454.8L675.7 454.8Z"/><path d="M650.6 448.7L658.4 463.4L642.8 463.4Z"/><path d="M683.5 452.5L691.3 467.2L675.7 467.2Z"/><path d="M617.7 458.1L625.5 472.8L609.9 472.8Z"/><path d="M622.6 463L630.4 477.7L614.8 477.7Z"/><path d="M673.1 463L680.9 477.7L665.3 477.7Z"/><path d="M628.2 466.7L636 481.4L620.4 481.4Z"/><path d="M665.6 466.7L673.4 481.4L657.8 481.4Z"/><path d="M643.2 471.2L651 485.9L635.4 485.9Z"/><path d="M658.1 471.2L665.9 485.9L650.3 485.9Z"/><path d="M635.7 474.9L643.5 489.6L627.9 489.6Z"/><path d="M652.5 474.9L660.3 489.6L644.7 489.6Z"/>
<circle cx="863.4" cy="364.6" r="7.8"/><circle cx="863.4" cy="381.4" r="7.8"/><circle cx="847.7" cy="397.5" r="7.8"/><circle cx="879.1" cy="397.5" r="7.8"/><circle cx="863.4" cy="414.3" r="7.8"/><circle cx="863.4" cy="430.8" r="7.8"/><circle cx="847.7" cy="450.6" r="7.8"/><circle cx="879.1" cy="450.6" r="7.8"/><circle cx="830.9" cy="458.8" r="7.8"/><circle cx="895.9" cy="458.8" r="7.8"/><circle cx="832.7" cy="470.4" r="7.8"/><circle cx="890.7" cy="470.4" r="7.8"/><circle cx="842.1" cy="475.6" r="7.8"/><circle cx="883.2" cy="475.6" r="7.8"/><circle cx="849.6" cy="477.9" r="7.8"/><circle cx="877.6" cy="477.9" r="7.8"/><circle cx="863.4" cy="478.6" r="7.8"/>
<path d="M960.6 119.7L968.4 134.4L952.8 134.4Z"/><path d="M927.7 227.4L935.5 242.1L919.9 242.1Z"/><path d="M960.6 227.4L968.4 242.1L952.8 242.1Z"/><path d="M993.2 227.4L1001 242.1L985.4 242.1Z"/><path d="M960.6 375.1L968.4 389.8L952.8 389.8Z"/><path d="M944.9 406.9L952.7 421.6L937.1 421.6Z"/><path d="M976.3 406.9L984.1 421.6L968.5 421.6Z"/><path d="M960.6 423.7L968.4 438.4L952.8 438.4Z"/><path d="M960.6 448L968.4 462.7L952.8 462.7Z"/><path d="M927.4 445.4L935.2 460.1L919.6 460.1Z"/><path d="M993.5 443.9L1001.3 458.6L985.7 458.6Z"/><path d="M930.7 453.2L938.5 467.9L922.9 467.9Z"/><path d="M992.8 451.7L1000.6 466.4L985 466.4Z"/><path d="M933.7 465.2L941.5 479.9L925.9 479.9Z"/><path d="M937.8 464.5L945.6 479.2L930 479.2Z"/><path d="M986.4 461.1L994.2 475.8L978.6 475.8Z"/><path d="M977.5 465.9L985.3 480.6L969.7 480.6Z"/><path d="M971.1 470.1L978.9 484.8L963.3 484.8Z"/><path d="M955.4 473.1L963.2 487.8L947.6 487.8Z"/><path d="M946.4 470.8L954.2 485.5L938.6 485.5Z"/><path d="M963.2 473.1L971 487.8L955.4 487.8Z"/>
<circle cx="1178.6" cy="225.1" r="7.8"/><circle cx="1178.6" cy="381.4" r="7.8"/><circle cx="1146.1" cy="393.8" r="7.8"/><circle cx="1211.2" cy="393.8" r="7.8"/><circle cx="1178.6" cy="406.8" r="7.8"/><circle cx="1146.1" cy="421.4" r="7.8"/><circle cx="1162.6" cy="421.4" r="7.8"/><circle cx="1211.2" cy="421.4" r="7.8"/><circle cx="1178.6" cy="433.8" r="7.8"/><circle cx="1194.7" cy="433.8" r="7.8"/><circle cx="1146.1" cy="446.1" r="7.8"/><circle cx="1211.2" cy="446.1" r="7.8"/><circle cx="1154.3" cy="459.2" r="7.8"/><circle cx="1167.4" cy="459.2" r="7.8"/><circle cx="1178.6" cy="459.2" r="7.8"/><circle cx="1189.9" cy="459.2" r="7.8"/><circle cx="1199.9" cy="459.2" r="7.8"/><circle cx="1146.1" cy="466.3" r="7.8"/><circle cx="1211.2" cy="470.4" r="7.8"/><circle cx="1156.2" cy="477.9" r="7.8"/><circle cx="1201.1" cy="477.9" r="7.8"/><circle cx="1167.4" cy="482.4" r="7.8"/><circle cx="1193.6" cy="482.4" r="7.8"/><circle cx="1173" cy="485" r="7.8"/><circle cx="1184.2" cy="485" r="7.8"/>
<path d="M1275.9 127.9L1283.7 142.6L1268.1 142.6Z"/><path d="M1275.9 271.1L1283.7 285.8L1268.1 285.8Z"/><path d="M1275.9 322.7L1283.7 337.4L1268.1 337.4Z"/><path d="M1275.9 387.8L1283.7 402.5L1268.1 402.5Z"/><path d="M1242.9 414.3L1250.7 429L1235.1 429Z"/><path d="M1308.8 414.3L1316.6 429L1301 429Z"/><path d="M1275.9 427.1L1283.7 441.8L1268.1 441.8Z"/><path d="M1242.9 440.1L1250.7 454.8L1235.1 454.8Z"/><path d="M1308.8 440.1L1316.6 454.8L1301 454.8Z"/><path d="M1294.6 448.7L1302.4 463.4L1286.8 463.4Z"/><path d="M1256 453.2L1263.8 467.9L1248.2 467.9Z"/><path d="M1269.1 453.2L1276.9 467.9L1261.3 467.9Z"/><path d="M1282.2 453.2L1290 467.9L1274.4 467.9Z"/><path d="M1240.3 473.1L1248.1 487.8L1232.5 487.8Z"/><path d="M1245.9 473.1L1253.7 487.8L1238.1 487.8Z"/><path d="M1251.5 473.1L1259.3 487.8L1243.7 487.8Z"/><path d="M1259 473.1L1266.8 487.8L1251.2 487.8Z"/><path d="M1266.5 473.1L1274.3 487.8L1258.7 487.8Z"/><path d="M1285.2 473.1L1293 487.8L1277.4 487.8Z"/><path d="M1292.7 473.1L1300.5 487.8L1284.9 487.8Z"/><path d="M1298.3 473.1L1306.1 487.8L1290.5 487.8Z"/><path d="M1303.9 473.1L1311.7 487.8L1296.1 487.8Z"/><path d="M1310.3 473.1L1318.1 487.8L1302.5 487.8Z"/><path d="M1275.9 478.7L1283.7 493.4L1268.1 493.4Z"/>
<circle cx="1505.2" cy="131.6" r="7.8"/><circle cx="1505.2" cy="225.9" r="7.8"/><circle cx="1505.2" cy="312.2" r="7.8"/><circle cx="1505.2" cy="369.4" r="7.8"/><circle cx="1489.5" cy="438.2" r="7.8"/><circle cx="1520.9" cy="438.2" r="7.8"/><circle cx="1472.7" cy="463.7" r="7.8"/><circle cx="1475.3" cy="463.7" r="7.8"/><circle cx="1538.1" cy="463.7" r="7.8"/><circle cx="1533.2" cy="473" r="7.8"/><circle cx="1484.6" cy="477.5" r="7.8"/><circle cx="1525.8" cy="477.5" r="7.8"/><circle cx="1492.1" cy="481.6" r="7.8"/><circle cx="1518.3" cy="481.6" r="7.8"/><circle cx="1501.4" cy="483.1" r="7.8"/><circle cx="1510.8" cy="483.1" r="7.8"/><circle cx="1516.4" cy="483.1" r="7.8"/>
<path d="M1569.5 397.5L1577.3 412.2L1561.7 412.2Z"/><path d="M1634.9 408.7L1642.7 423.4L1627.1 423.4Z"/><path d="M1602.4 420L1610.2 434.7L1594.6 434.7Z"/><path d="M1602.4 440.1L1610.2 454.8L1594.6 454.8Z"/><path d="M1569.5 453.6L1577.3 468.3L1561.7 468.3Z"/><path d="M1634.9 457.3L1642.7 472L1627.1 472Z"/><path d="M1576.2 463L1584 477.7L1568.4 477.7Z"/><path d="M1624.8 471.2L1632.6 485.9L1617 485.9Z"/><path d="M1581.8 474.9L1589.6 489.6L1574 489.6Z"/><path d="M1623 474.9L1630.8 489.6L1615.2 489.6Z"/><path d="M1593.1 476.8L1600.9 491.5L1585.3 491.5Z"/><path d="M1602.4 476.8L1610.2 491.5L1594.6 491.5Z"/><path d="M1613.6 476.8L1621.4 491.5L1605.8 491.5Z"/>
<circle cx="1821.9" cy="129.8" r="7.8"/><circle cx="1821.9" cy="246.8" r="7.8"/><circle cx="1821.9" cy="325.3" r="7.8"/><circle cx="1854.8" cy="429.3" r="7.8"/><circle cx="1789.4" cy="439.4" r="7.8"/><circle cx="1841.7" cy="439.4" r="7.8"/><circle cx="1802.5" cy="450.6" r="7.8"/><circle cx="1815.2" cy="450.6" r="7.8"/><circle cx="1828.6" cy="450.6" r="7.8"/><circle cx="1789.4" cy="460.7" r="7.8"/><circle cx="1854.8" cy="462.9" r="7.8"/><circle cx="1812.9" cy="481.6" r="7.8"/><circle cx="1830.5" cy="481.6" r="7.8"/><circle cx="1795.4" cy="473" r="7.8"/><circle cx="1851.1" cy="473" r="7.8"/><circle cx="1805.8" cy="480.1" r="7.8"/><circle cx="1838.4" cy="480.1" r="7.8"/><circle cx="1822.7" cy="481.2" r="7.8"/>
<path d="M1919.1 319L1926.9 333.7L1911.3 333.7Z"/><path d="M1894.4 467.8L1902.2 482.5L1886.6 482.5Z"/><path d="M1902.3 468.6L1910.1 483.3L1894.5 483.3Z"/><path d="M1910.2 469.3L1918 484L1902.4 484Z"/><path d="M1916.5 470.1L1924.3 484.8L1908.7 484.8Z"/><path d="M1924.7 469.7L1932.5 484.4L1916.9 484.4Z"/><path d="M1932.6 468.6L1940.4 483.3L1924.8 483.3Z"/><path d="M1938.2 467.8L1946 482.5L1930.4 482.5Z"/><path d="M1919.1 423.3L1926.9 438L1911.3 438Z"/><path d="M1903.4 443.5L1911.2 458.2L1895.6 458.2Z"/><path d="M1934.5 442.4L1942.3 457.1L1926.7 457.1Z"/><path d="M1886.2 458.5L1894 473.2L1878.4 473.2Z"/><path d="M1952 458.5L1959.8 473.2L1944.2 473.2Z"/><path d="M1888.1 462.6L1895.9 477.3L1880.3 477.3Z"/><path d="M1948.7 462.6L1956.5 477.3L1940.9 477.3Z"/><path d="M1907.2 473.8L1915 488.5L1899.4 488.5Z"/><path d="M1929.2 473.8L1937 488.5L1921.4 488.5Z"/><path d="M1898.2 470.4L1906 485.1L1890.4 485.1Z"/><path d="M1941.9 468.2L1949.7 482.9L1934.1 482.9Z"/><path d="M1919.9 476L1927.7 490.7L1912.1 490.7Z"/>
<circle cx="236.1" cy="614.2" r="7.8"/><circle cx="236.1" cy="653.2" r="7.8"/><circle cx="220.4" cy="707.6" r="7.8"/><circle cx="251.8" cy="700" r="7.8"/><circle cx="236.1" cy="761.7" r="7.8"/><circle cx="251.8" cy="785.1" r="7.8"/><circle cx="220.4" cy="793.1" r="7.8"/><circle cx="220.4" cy="808.4" r="7.8"/><circle cx="251.8" cy="808.4" r="7.8"/><circle cx="236.1" cy="824.1" r="7.8"/><circle cx="203.3" cy="854.8" r="7.8"/><circle cx="236.1" cy="862.9" r="7.8"/><circle cx="268.6" cy="862.9" r="7.8"/><circle cx="236.1" cy="878.2" r="7.8"/><circle cx="203.3" cy="901.2" r="7.8"/><circle cx="219.7" cy="901.2" r="7.8"/><circle cx="268.6" cy="901.2" r="7.8"/><circle cx="251.8" cy="908.9" r="7.8"/><circle cx="236.1" cy="916.6" r="7.8"/><circle cx="203.3" cy="924.6" r="7.8"/><circle cx="207.5" cy="924.6" r="7.8"/><circle cx="263.3" cy="924.6" r="7.8"/><circle cx="268.6" cy="924.6" r="7.8"/><circle cx="212.8" cy="932.6" r="7.8"/><circle cx="219.7" cy="940.3" r="7.8"/><circle cx="228.5" cy="940.3" r="7.8"/><circle cx="238.2" cy="940.3" r="7.8"/><circle cx="253.6" cy="940.3" r="7.8"/>
<path d="M333.1 637.4L340.9 652.1L325.3 652.1Z"/><path d="M333.1 669.5L340.9 684.2L325.3 684.2Z"/><path d="M333.1 716.6L340.9 731.3L325.3 731.3Z"/><path d="M317.4 778.3L325.2 793L309.6 793Z"/><path d="M348.8 778.3L356.6 793L341 793Z"/><path d="M300.6 794L308.4 808.7L292.8 808.7Z"/><path d="M333.1 801L340.9 815.7L325.3 815.7Z"/><path d="M365.5 801L373.3 815.7L357.7 815.7Z"/><path d="M333.1 817.7L340.9 832.4L325.3 832.4Z"/><path d="M348.8 832.7L356.6 847.4L341 847.4Z"/><path d="M317.4 840.4L325.2 855.1L309.6 855.1Z"/><path d="M300.6 856.1L308.4 870.8L292.8 870.8Z"/><path d="M365.5 856.1L373.3 870.8L357.7 870.8Z"/><path d="M316.7 863.8L324.5 878.5L308.9 878.5Z"/><path d="M333.1 863.8L340.9 878.5L325.3 878.5Z"/><path d="M348.8 863.8L356.6 878.5L341 878.5Z"/><path d="M365.5 871.8L373.3 886.5L357.7 886.5Z"/><path d="M300.6 879.5L308.4 894.2L292.8 894.2Z"/><path d="M321.6 887.5L329.4 902.2L313.8 902.2Z"/><path d="M343.5 887.5L351.3 902.2L335.7 902.2Z"/><path d="M300.6 895.2L308.4 909.9L292.8 909.9Z"/><path d="M365.5 895.2L373.3 909.9L357.7 909.9Z"/><path d="M316.7 902.5L324.5 917.2L308.9 917.2Z"/><path d="M333.1 910.2L340.9 924.9L325.3 924.9Z"/><path d="M348.8 910.2L356.6 924.9L341 924.9Z"/><path d="M300.6 917.8L308.4 932.5L292.8 932.5Z"/><path d="M365.5 917.8L373.3 932.5L357.7 932.5Z"/><path d="M310.4 925.9L318.2 940.6L302.6 940.6Z"/><path d="M319.1 925.9L326.9 940.6L311.3 940.6Z"/><path d="M347 925.9L354.8 940.6L339.2 940.6Z"/><path d="M357.5 925.9L365.3 940.6L349.7 940.6Z"/><path d="M327.9 934.6L335.7 949.3L320.1 949.3Z"/><path d="M338.3 934.6L346.1 949.3L330.5 949.3Z"/>
<circle cx="548.3" cy="568.8" r="7.8"/><circle cx="548.3" cy="607.9" r="7.8"/><circle cx="548.3" cy="666.5" r="7.8"/><circle cx="548.3" cy="695.4" r="7.8"/><circle cx="548.3" cy="714.6" r="7.8"/><circle cx="515.5" cy="743.2" r="7.8"/><circle cx="580.7" cy="743.2" r="7.8"/><circle cx="537.1" cy="753" r="7.8"/><circle cx="559.1" cy="753" r="7.8"/><circle cx="548.3" cy="792" r="7.8"/><circle cx="515.5" cy="831.1" r="7.8"/><circle cx="548.3" cy="840.2" r="7.8"/><circle cx="580.7" cy="840.2" r="7.8"/><circle cx="515.5" cy="860.1" r="7.8"/><circle cx="548.3" cy="860.1" r="7.8"/><circle cx="580.7" cy="860.1" r="7.8"/><circle cx="548.3" cy="879.2" r="7.8"/><circle cx="515.5" cy="889" r="7.8"/><circle cx="580.7" cy="898.4" r="7.8"/><circle cx="548.3" cy="908.2" r="7.8"/><circle cx="515.5" cy="917.6" r="7.8"/><circle cx="521.4" cy="917.6" r="7.8"/><circle cx="580.7" cy="917.6" r="7.8"/><circle cx="524.9" cy="927.4" r="7.8"/><circle cx="574.8" cy="927.4" r="7.8"/><circle cx="531.9" cy="937.5" r="7.8"/><circle cx="542.4" cy="937.5" r="7.8"/><circle cx="554.6" cy="937.5" r="7.8"/><circle cx="564.3" cy="937.5" r="7.8"/>
<path d="M645.2 629.4L653 644.1L637.4 644.1Z"/><path d="M629.5 727L637.3 741.7L621.7 741.7Z"/><path d="M660.9 727L668.7 741.7L653.1 741.7Z"/><path d="M660.9 756L668.7 770.7L653.1 770.7Z"/><path d="M629.5 766.1L637.3 780.8L621.7 780.8Z"/><path d="M612.8 814.2L620.6 828.9L605 828.9Z"/><path d="M628.8 823.7L636.6 838.4L621 838.4Z"/><path d="M677.7 823.7L685.5 838.4L669.9 838.4Z"/><path d="M645.2 833.4L653 848.1L637.4 848.1Z"/><path d="M660.9 833.4L668.7 848.1L653.1 848.1Z"/><path d="M612.8 843.9L620.6 858.6L605 858.6Z"/><path d="M677.7 853.3L685.5 868L669.9 868Z"/><path d="M645.2 863.1L653 877.8L637.4 877.8Z"/><path d="M612.8 882.3L620.6 897L605 897Z"/><path d="M677.7 882.3L685.5 897L669.9 897Z"/><path d="M625.4 892L633.2 906.7L617.6 906.7Z"/><path d="M651.5 892L659.3 906.7L643.7 906.7Z"/><path d="M665.1 892L672.9 906.7L657.3 906.7Z"/><path d="M638.3 901.4L646.1 916.1L630.5 916.1Z"/><path d="M612.8 911.2L620.6 925.9L605 925.9Z"/><path d="M677.7 911.2L685.5 925.9L669.9 925.9Z"/><path d="M620.8 920.6L628.6 935.3L613 935.3Z"/><path d="M667.9 920.6L675.7 935.3L660.1 935.3Z"/><path d="M674.9 920.6L682.7 935.3L667.1 935.3Z"/><path d="M626.1 930L633.9 944.7L618.3 944.7Z"/><path d="M633 930L640.8 944.7L625.2 944.7Z"/><path d="M645.2 930L653 944.7L637.4 944.7Z"/><path d="M657.4 930L665.2 944.7L649.6 944.7Z"/>
<circle cx="863.9" cy="696.8" r="7.8"/><circle cx="863.9" cy="757.2" r="7.8"/><circle cx="863.9" cy="774.6" r="7.8"/><circle cx="831.1" cy="791.4" r="7.8"/><circle cx="847.2" cy="791.4" r="7.8"/><circle cx="863.9" cy="791.4" r="7.8"/><circle cx="880.3" cy="791.4" r="7.8"/><circle cx="896.7" cy="791.4" r="7.8"/><circle cx="896.7" cy="817.5" r="7.8"/><circle cx="831.1" cy="826.2" r="7.8"/><circle cx="852.8" cy="834.6" r="7.8"/><circle cx="874.4" cy="834.6" r="7.8"/><circle cx="848.2" cy="851.3" r="7.8"/><circle cx="879.6" cy="851.3" r="7.8"/><circle cx="848.2" cy="868.8" r="7.8"/><circle cx="879.6" cy="868.8" r="7.8"/><circle cx="863.9" cy="886.2" r="7.8"/><circle cx="831.1" cy="894.9" r="7.8"/><circle cx="847.2" cy="903.7" r="7.8"/><circle cx="896.7" cy="903.7" r="7.8"/><circle cx="863.9" cy="912.4" r="7.8"/><circle cx="880.3" cy="912.4" r="7.8"/><circle cx="831.1" cy="929.1" r="7.8"/><circle cx="837.8" cy="929.1" r="7.8"/><circle cx="890.1" cy="929.1" r="7.8"/><circle cx="896.7" cy="929.1" r="7.8"/><circle cx="843" cy="937.5" r="7.8"/><circle cx="850" cy="937.5" r="7.8"/><circle cx="857" cy="937.5" r="7.8"/><circle cx="863.9" cy="937.5" r="7.8"/><circle cx="870.9" cy="937.5" r="7.8"/><circle cx="877.9" cy="937.5" r="7.8"/><circle cx="884.9" cy="937.5" r="7.8"/>
<path d="M960.9 568.4L968.7 583.1L953.1 583.1Z"/><path d="M960.9 603.9L968.7 618.6L953.1 618.6Z"/><path d="M960.9 638.8L968.7 653.5L953.1 653.5Z"/><path d="M960.9 673L968.7 687.7L953.1 687.7Z"/><path d="M945.2 741.7L953 756.4L937.4 756.4Z"/><path d="M976.6 733.3L984.4 748L968.8 748Z"/><path d="M960.9 759.1L968.7 773.8L953.1 773.8Z"/><path d="M960.9 776.6L968.7 791.3L953.1 791.3Z"/><path d="M928.5 845.6L936.3 860.3L920.7 860.3Z"/><path d="M993.7 845.6L1001.5 860.3L985.9 860.3Z"/><path d="M940.7 854.4L948.5 869.1L932.9 869.1Z"/><path d="M980.1 854.4L987.9 869.1L972.3 869.1Z"/><path d="M953.9 863.1L961.7 877.8L946.1 877.8Z"/><path d="M967.5 863.1L975.3 877.8L959.7 877.8Z"/><path d="M928.5 888.5L936.3 903.2L920.7 903.2Z"/><path d="M980.1 888.5L987.9 903.2L972.3 903.2Z"/><path d="M993.7 888.5L1001.5 903.2L985.9 903.2Z"/><path d="M940.7 897.3L948.5 912L932.9 912Z"/><path d="M953.9 906L961.7 920.7L946.1 920.7Z"/><path d="M967.5 906L975.3 920.7L959.7 920.7Z"/><path d="M928.5 914.7L936.3 929.4L920.7 929.4Z"/><path d="M933.7 923.4L941.5 938.1L925.9 938.1Z"/><path d="M987.7 923.4L995.5 938.1L979.9 938.1Z"/><path d="M993.7 923.4L1001.5 938.1L985.9 938.1Z"/><path d="M944.1 931.1L951.9 945.8L936.3 945.8Z"/><path d="M954.6 931.1L962.4 945.8L946.8 945.8Z"/><path d="M965.1 931.1L972.9 945.8L957.3 945.8Z"/><path d="M975.5 931.1L983.3 945.8L967.7 945.8Z"/><path d="M984.3 931.1L992.1 945.8L976.5 945.8Z"/>
<circle cx="1179.6" cy="597.4" r="7.8"/><circle cx="1179.6" cy="702.4" r="7.8"/><circle cx="1179.6" cy="719.5" r="7.8"/><circle cx="1179.6" cy="775.7" r="7.8"/><circle cx="1163.9" cy="800.1" r="7.8"/><circle cx="1195.3" cy="800.1" r="7.8"/><circle cx="1195.3" cy="815.8" r="7.8"/><circle cx="1163.9" cy="824.1" r="7.8"/><circle cx="1147.1" cy="839.8" r="7.8"/><circle cx="1156.9" cy="847.9" r="7.8"/><circle cx="1212.7" cy="847.9" r="7.8"/><circle cx="1167.4" cy="856.6" r="7.8"/><circle cx="1179.6" cy="856.6" r="7.8"/><circle cx="1191.8" cy="856.6" r="7.8"/><circle cx="1202.2" cy="856.6" r="7.8"/><circle cx="1163.9" cy="873" r="7.8"/><circle cx="1195.3" cy="873" r="7.8"/><circle cx="1195.3" cy="889" r="7.8"/><circle cx="1163.9" cy="897.4" r="7.8"/><circle cx="1163.9" cy="913.1" r="7.8"/><circle cx="1195.3" cy="913.1" r="7.8"/><circle cx="1147.1" cy="921.1" r="7.8"/><circle cx="1212.7" cy="921.1" r="7.8"/><circle cx="1152.4" cy="928.1" r="7.8"/><circle cx="1200.5" cy="928.1" r="7.8"/><circle cx="1160.4" cy="936.8" r="7.8"/><circle cx="1167.4" cy="936.8" r="7.8"/><circle cx="1176.1" cy="936.8" r="7.8"/><circle cx="1184.8" cy="936.8" r="7.8"/><circle cx="1193.5" cy="936.8" r="7.8"/>
<path d="M1276.5 590L1284.3 604.7L1268.7 604.7Z"/><path d="M1276.5 631.1L1284.3 645.8L1268.7 645.8Z"/><path d="M1276.5 688L1284.3 702.7L1268.7 702.7Z"/><path d="M1276.5 704.4L1284.3 719.1L1268.7 719.1Z"/><path d="M1276.5 728.8L1284.3 743.5L1268.7 743.5Z"/><path d="M1276.5 745.2L1284.3 759.9L1268.7 759.9Z"/><path d="M1244.1 753.2L1251.9 767.9L1236.3 767.9Z"/><path d="M1309.3 760.9L1317.1 775.6L1301.5 775.6Z"/><path d="M1276.5 769.6L1284.3 784.3L1268.7 784.3Z"/><path d="M1292.2 785.6L1300 800.3L1284.4 800.3Z"/><path d="M1260.8 793.3L1268.6 808L1253 808Z"/><path d="M1260.8 809.7L1268.6 824.4L1253 824.4Z"/><path d="M1292.2 809.7L1300 824.4L1284.4 824.4Z"/><path d="M1244.1 850.2L1251.9 864.9L1236.3 864.9Z"/><path d="M1276.5 858.5L1284.3 873.2L1268.7 873.2Z"/><path d="M1309.3 858.5L1317.1 873.2L1301.5 873.2Z"/><path d="M1260.8 882.3L1268.6 897L1253 897Z"/><path d="M1292.2 882.3L1300 897L1284.4 897Z"/><path d="M1244.1 890.3L1251.9 905L1236.3 905Z"/><path d="M1309.3 890.3L1317.1 905L1301.5 905Z"/><path d="M1287 898.6L1294.8 913.3L1279.2 913.3Z"/><path d="M1265.7 906.7L1273.5 921.4L1257.9 921.4Z"/><path d="M1244.1 914.7L1251.9 929.4L1236.3 929.4Z"/><path d="M1309.3 914.7L1317.1 929.4L1301.5 929.4Z"/><path d="M1251.1 921.7L1258.9 936.4L1243.3 936.4Z"/><path d="M1263.3 930L1271.1 944.7L1255.5 944.7Z"/><path d="M1270.3 930L1278.1 944.7L1262.5 944.7Z"/><path d="M1277.2 930L1285 944.7L1269.4 944.7Z"/><path d="M1284.2 930L1292 944.7L1276.4 944.7Z"/><path d="M1291.2 930L1299 944.7L1283.4 944.7Z"/><path d="M1298.2 930L1306 944.7L1290.4 944.7Z"/>
<circle cx="1500.6" cy="661.3" r="7.8"/><circle cx="1515.6" cy="791" r="7.8"/><circle cx="1484.2" cy="797.3" r="7.8"/><circle cx="1467.4" cy="803.6" r="7.8"/><circle cx="1532.7" cy="803.6" r="7.8"/><circle cx="1483.1" cy="816.5" r="7.8"/><circle cx="1500.6" cy="823.4" r="7.8"/><circle cx="1516.3" cy="823.4" r="7.8"/><circle cx="1500.6" cy="855.5" r="7.8"/><circle cx="1467.4" cy="868.1" r="7.8"/><circle cx="1519.8" cy="868.1" r="7.8"/><circle cx="1532.7" cy="868.1" r="7.8"/><circle cx="1480.3" cy="875.1" r="7.8"/><circle cx="1506.5" cy="875.1" r="7.8"/><circle cx="1493.6" cy="881.7" r="7.8"/><circle cx="1467.4" cy="913.4" r="7.8"/><circle cx="1470.9" cy="913.4" r="7.8"/><circle cx="1526.7" cy="913.4" r="7.8"/><circle cx="1532.7" cy="913.4" r="7.8"/><circle cx="1475.1" cy="920" r="7.8"/><circle cx="1519.8" cy="920" r="7.8"/><circle cx="1483.1" cy="926.3" r="7.8"/><circle cx="1516.3" cy="926.3" r="7.8"/><circle cx="1488.4" cy="933.3" r="7.8"/><circle cx="1494.3" cy="933.3" r="7.8"/><circle cx="1507.5" cy="933.3" r="7.8"/><circle cx="1511" cy="933.3" r="7.8"/>
<path d="M1597.2 595.6L1605 610.3L1589.4 610.3Z"/><path d="M1597.2 681L1605 695.7L1589.4 695.7Z"/><path d="M1597.2 739.3L1605 754L1589.4 754Z"/><path d="M1564.4 790.5L1572.2 805.2L1556.6 805.2Z"/><path d="M1629.6 796.8L1637.4 811.5L1621.8 811.5Z"/><path d="M1597.2 810.1L1605 824.8L1589.4 824.8Z"/><path d="M1612.9 835.9L1620.7 850.6L1605.1 850.6Z"/><path d="M1581.8 849.1L1589.6 863.8L1574 863.8Z"/><path d="M1564.4 861.3L1572.2 876L1556.6 876Z"/><path d="M1573.8 861.3L1581.6 876L1566 876Z"/><path d="M1610.4 861.3L1618.2 876L1602.6 876Z"/><path d="M1619.9 861.3L1627.7 876L1612.1 876Z"/><path d="M1629.6 861.3L1637.4 876L1621.8 876Z"/><path d="M1582.5 868.3L1590.3 883L1574.7 883Z"/><path d="M1593 875.3L1600.8 890L1585.2 890Z"/><path d="M1602.8 875.3L1610.6 890L1595 890Z"/><path d="M1564.4 888.2L1572.2 902.9L1556.6 902.9Z"/><path d="M1629.6 888.2L1637.4 902.9L1621.8 902.9Z"/><path d="M1580.8 895.2L1588.6 909.9L1573 909.9Z"/><path d="M1597.2 900.7L1605 915.4L1589.4 915.4Z"/><path d="M1612.9 900.7L1620.7 915.4L1605.1 915.4Z"/><path d="M1629.6 907.7L1637.4 922.4L1621.8 922.4Z"/><path d="M1564.4 913.6L1572.2 928.3L1556.6 928.3Z"/><path d="M1575.6 919.9L1583.4 934.6L1567.8 934.6Z"/><path d="M1623.3 919.9L1631.1 934.6L1615.5 934.6Z"/><path d="M1582.5 926.6L1590.3 941.3L1574.7 941.3Z"/><path d="M1589.5 926.6L1597.3 941.3L1581.7 941.3Z"/><path d="M1597.2 926.6L1605 941.3L1589.4 941.3Z"/><path d="M1605.2 926.6L1613 941.3L1597.4 941.3Z"/><path d="M1612.2 926.6L1620 941.3L1604.4 941.3Z"/>
<circle cx="1822.1" cy="666.5" r="7.8"/><circle cx="1822.1" cy="698.9" r="7.8"/><circle cx="1822.1" cy="718.8" r="7.8"/><circle cx="1822.1" cy="750.9" r="7.8"/><circle cx="1822.1" cy="808.8" r="7.8"/><circle cx="1854.6" cy="821.7" r="7.8"/><circle cx="1789.4" cy="828" r="7.8"/><circle cx="1832.6" cy="828" r="7.8"/><circle cx="1811" cy="840.9" r="7.8"/><circle cx="1789.4" cy="874" r="7.8"/><circle cx="1832.6" cy="874" r="7.8"/><circle cx="1854.6" cy="867" r="7.8"/><circle cx="1811" cy="886.2" r="7.8"/><circle cx="1854.6" cy="893.2" r="7.8"/><circle cx="1789.4" cy="906.1" r="7.8"/><circle cx="1811" cy="912.4" r="7.8"/><circle cx="1832.6" cy="912.4" r="7.8"/><circle cx="1789.4" cy="918.7" r="7.8"/><circle cx="1849.4" cy="918.7" r="7.8"/><circle cx="1854.6" cy="918.7" r="7.8"/><circle cx="1795.3" cy="925.6" r="7.8"/><circle cx="1802.3" cy="931.6" r="7.8"/><circle cx="1842.4" cy="931.6" r="7.8"/><circle cx="1814.5" cy="937.8" r="7.8"/><circle cx="1833.7" cy="937.8" r="7.8"/>
<path d="M1919.1 600.8L1926.9 615.5L1911.3 615.5Z"/><path d="M1919.1 685.9L1926.9 700.6L1911.3 700.6Z"/><path d="M1919.1 750.8L1926.9 765.5L1911.3 765.5Z"/><path d="M1919.1 796.1L1926.9 810.8L1911.3 810.8Z"/><path d="M1886 809L1893.8 823.7L1878.2 823.7Z"/><path d="M1919.1 821.9L1926.9 836.6L1911.3 836.6Z"/><path d="M1951.5 821.9L1959.3 836.6L1943.7 836.6Z"/><path d="M1934.8 834.5L1942.6 849.2L1927 849.2Z"/><path d="M1903.4 847.4L1911.2 862.1L1895.6 862.1Z"/><path d="M1886 866.6L1893.8 881.3L1878.2 881.3Z"/><path d="M1938.3 866.6L1946.1 881.3L1930.5 881.3Z"/><path d="M1951.5 866.6L1959.3 881.3L1943.7 881.3Z"/><path d="M1898.9 873.5L1906.7 888.2L1891.1 888.2Z"/><path d="M1925.4 873.5L1933.2 888.2L1917.6 888.2Z"/><path d="M1912.1 879.8L1919.9 894.5L1904.3 894.5Z"/><path d="M1886 892.7L1893.8 907.4L1878.2 907.4Z"/><path d="M1951.5 892.7L1959.3 907.4L1943.7 907.4Z"/><path d="M1898.9 899L1906.7 913.7L1891.1 913.7Z"/><path d="M1925.4 899L1933.2 913.7L1917.6 913.7Z"/><path d="M1938.3 899L1946.1 913.7L1930.5 913.7Z"/><path d="M1912.1 906L1919.9 920.7L1904.3 920.7Z"/><path d="M1951.5 911.9L1959.3 926.6L1943.7 926.6Z"/><path d="M1886 918.2L1893.8 932.9L1878.2 932.9Z"/><path d="M1892.9 925.2L1900.7 939.9L1885.1 939.9Z"/><path d="M1933.8 925.2L1941.6 939.9L1926 939.9Z"/><path d="M1946 925.2L1953.8 939.9L1938.2 939.9Z"/><path d="M1905.2 931.1L1913 945.8L1897.4 945.8Z"/><path d="M1912.1 931.1L1919.9 945.8L1904.3 945.8Z"/><path d="M1919.1 931.1L1926.9 945.8L1911.3 945.8Z"/><path d="M1927.8 931.1L1935.6 945.8L1920 945.8Z"/>
<circle cx="237.2" cy="1053.9" r="7.8"/><circle cx="237.2" cy="1109.7" r="7.8"/><circle cx="204.7" cy="1164.9" r="7.8"/><circle cx="226" cy="1164.9" r="7.8"/><circle cx="248.3" cy="1164.9" r="7.8"/><circle cx="270.3" cy="1164.9" r="7.8"/><circle cx="221.5" cy="1220.7" r="7.8"/><circle cx="252.9" cy="1220.7" r="7.8"/><circle cx="204.7" cy="1275.8" r="7.8"/><circle cx="214.5" cy="1275.8" r="7.8"/><circle cx="226.7" cy="1275.8" r="7.8"/><circle cx="231.9" cy="1275.8" r="7.8"/><circle cx="244.1" cy="1275.8" r="7.8"/><circle cx="251.1" cy="1275.8" r="7.8"/><circle cx="263.3" cy="1275.8" r="7.8"/><circle cx="270.3" cy="1275.8" r="7.8"/><circle cx="204.7" cy="1331.6" r="7.8"/><circle cx="211" cy="1331.6" r="7.8"/><circle cx="223.2" cy="1331.6" r="7.8"/><circle cx="230.2" cy="1331.6" r="7.8"/><circle cx="235.4" cy="1331.6" r="7.8"/><circle cx="240.7" cy="1331.6" r="7.8"/><circle cx="247.6" cy="1331.6" r="7.8"/><circle cx="254.6" cy="1331.6" r="7.8"/><circle cx="263.3" cy="1331.6" r="7.8"/><circle cx="270.3" cy="1331.6" r="7.8"/><circle cx="204.7" cy="1386.3" r="7.8"/><circle cx="220.4" cy="1386.3" r="7.8"/><circle cx="237.2" cy="1386.3" r="7.8"/><circle cx="253.6" cy="1386.3" r="7.8"/><circle cx="270.3" cy="1386.3" r="7.8"/>
<path d="M301.7 1158.4L309.5 1173.1L293.9 1173.1Z"/><path d="M323.3 1158.4L331.1 1173.1L315.5 1173.1Z"/><path d="M345.3 1158.4L353.1 1173.1L337.5 1173.1Z"/><path d="M366.9 1158.4L374.7 1173.1L359.1 1173.1Z"/><path d="M301.7 1214.2L309.5 1228.9L293.9 1228.9Z"/><path d="M314.6 1214.2L322.4 1228.9L306.8 1228.9Z"/><path d="M327.9 1214.2L335.7 1228.9L320.1 1228.9Z"/><path d="M340.8 1214.2L348.6 1228.9L333 1228.9Z"/><path d="M354 1214.2L361.8 1228.9L346.2 1228.9Z"/><path d="M366.9 1214.2L374.7 1228.9L359.1 1228.9Z"/><path d="M301.7 1270L309.5 1284.7L293.9 1284.7Z"/><path d="M318.1 1270L325.9 1284.7L310.3 1284.7Z"/><path d="M334.1 1270L341.9 1284.7L326.3 1284.7Z"/><path d="M350.5 1270L358.3 1284.7L342.7 1284.7Z"/><path d="M366.9 1270L374.7 1284.7L359.1 1284.7Z"/><path d="M301.7 1325.8L309.5 1340.5L293.9 1340.5Z"/><path d="M310.4 1325.8L318.2 1340.5L302.6 1340.5Z"/><path d="M318.1 1325.8L325.9 1340.5L310.3 1340.5Z"/><path d="M326.1 1325.8L333.9 1340.5L318.3 1340.5Z"/><path d="M334.1 1325.8L341.9 1340.5L326.3 1340.5Z"/><path d="M342.5 1325.8L350.3 1340.5L334.7 1340.5Z"/><path d="M350.5 1325.8L358.3 1340.5L342.7 1340.5Z"/><path d="M359.2 1325.8L367 1340.5L351.4 1340.5Z"/><path d="M366.9 1325.8L374.7 1340.5L359.1 1340.5Z"/><path d="M301.7 1380.9L309.5 1395.6L293.9 1395.6Z"/><path d="M308.7 1380.9L316.5 1395.6L300.9 1395.6Z"/><path d="M318.1 1380.9L325.9 1395.6L310.3 1395.6Z"/><path d="M326.1 1380.9L333.9 1395.6L318.3 1395.6Z"/><path d="M334.1 1380.9L341.9 1395.6L326.3 1395.6Z"/><path d="M342.5 1380.9L350.3 1395.6L334.7 1395.6Z"/><path d="M350.5 1380.9L358.3 1395.6L342.7 1395.6Z"/><path d="M359.2 1380.9L367 1395.6L351.4 1395.6Z"/><path d="M366.9 1380.9L374.7 1395.6L359.1 1395.6Z"/>
<circle cx="548.3" cy="1053.2" r="7.8"/><circle cx="532.6" cy="1164.2" r="7.8"/><circle cx="564.3" cy="1164.2" r="7.8"/><circle cx="515.5" cy="1220" r="7.8"/><circle cx="537.1" cy="1220" r="7.8"/><circle cx="559.1" cy="1220" r="7.8"/><circle cx="581.4" cy="1220" r="7.8"/><circle cx="515.5" cy="1275.4" r="7.8"/><circle cx="531.9" cy="1275.4" r="7.8"/><circle cx="548.3" cy="1275.4" r="7.8"/><circle cx="564.3" cy="1275.4" r="7.8"/><circle cx="581.4" cy="1275.4" r="7.8"/><circle cx="515.5" cy="1330.5" r="7.8"/><circle cx="521.4" cy="1330.5" r="7.8"/><circle cx="535.4" cy="1330.5" r="7.8"/><circle cx="540.6" cy="1330.5" r="7.8"/><circle cx="554.6" cy="1330.5" r="7.8"/><circle cx="561.5" cy="1330.5" r="7.8"/><circle cx="573.7" cy="1330.5" r="7.8"/><circle cx="581.4" cy="1330.5" r="7.8"/><circle cx="515.5" cy="1386.3" r="7.8"/><circle cx="523.2" cy="1386.3" r="7.8"/><circle cx="531.9" cy="1386.3" r="7.8"/><circle cx="540.6" cy="1386.3" r="7.8"/><circle cx="551.8" cy="1386.3" r="7.8"/><circle cx="561.5" cy="1386.3" r="7.8"/><circle cx="573.7" cy="1386.3" r="7.8"/><circle cx="581.4" cy="1386.3" r="7.8"/>
<path d="M645.2 1102.6L653 1117.3L637.4 1117.3Z"/><path d="M629.5 1158.4L637.3 1173.1L621.7 1173.1Z"/><path d="M661.6 1158.4L669.4 1173.1L653.8 1173.1Z"/><path d="M612.8 1214.2L620.6 1228.9L605 1228.9Z"/><path d="M634.1 1214.2L641.9 1228.9L626.3 1228.9Z"/><path d="M656.4 1214.2L664.2 1228.9L648.6 1228.9Z"/><path d="M678.4 1214.2L686.2 1228.9L670.6 1228.9Z"/><path d="M612.8 1270L620.6 1284.7L605 1284.7Z"/><path d="M628.8 1270L636.6 1284.7L621 1284.7Z"/><path d="M645.2 1270L653 1284.7L637.4 1284.7Z"/><path d="M661.6 1270L669.4 1284.7L653.8 1284.7Z"/><path d="M678.4 1270L686.2 1284.7L670.6 1284.7Z"/><path d="M612.8 1325.1L620.6 1339.8L605 1339.8Z"/><path d="M624.3 1325.1L632.1 1339.8L616.5 1339.8Z"/><path d="M634.8 1325.1L642.6 1339.8L627 1339.8Z"/><path d="M641.8 1325.1L649.6 1339.8L634 1339.8Z"/><path d="M650.5 1325.1L658.3 1339.8L642.7 1339.8Z"/><path d="M655.7 1325.1L663.5 1339.8L647.9 1339.8Z"/><path d="M666.2 1325.1L674 1339.8L658.4 1339.8Z"/><path d="M678.4 1325.1L686.2 1339.8L670.6 1339.8Z"/><path d="M612.8 1380.9L620.6 1395.6L605 1395.6Z"/><path d="M620.8 1380.9L628.6 1395.6L613 1395.6Z"/><path d="M629.5 1380.9L637.3 1395.6L621.7 1395.6Z"/><path d="M638.3 1380.9L646.1 1395.6L630.5 1395.6Z"/><path d="M645.2 1380.9L653 1395.6L637.4 1395.6Z"/><path d="M654 1380.9L661.8 1395.6L646.2 1395.6Z"/><path d="M661.6 1380.9L669.4 1395.6L653.8 1395.6Z"/><path d="M669.7 1380.9L677.5 1395.6L661.9 1395.6Z"/><path d="M678.4 1380.9L686.2 1395.6L670.6 1395.6Z"/>
<circle cx="863.9" cy="1077" r="7.8"/><circle cx="831.1" cy="1154.4" r="7.8"/><circle cx="863.9" cy="1154.4" r="7.8"/><circle cx="896.7" cy="1154.4" r="7.8"/><circle cx="831.1" cy="1232.2" r="7.8"/><circle cx="852.8" cy="1232.2" r="7.8"/><circle cx="874.4" cy="1232.2" r="7.8"/><circle cx="896.7" cy="1232.2" r="7.8"/><circle cx="831.1" cy="1309.6" r="7.8"/><circle cx="837.8" cy="1309.6" r="7.8"/><circle cx="843" cy="1309.6" r="7.8"/><circle cx="853.5" cy="1309.6" r="7.8"/><circle cx="863.9" cy="1309.6" r="7.8"/><circle cx="879.6" cy="1309.6" r="7.8"/><circle cx="888.3" cy="1309.6" r="7.8"/><circle cx="896.7" cy="1309.6" r="7.8"/><circle cx="831.1" cy="1387" r="7.8"/><circle cx="839.5" cy="1387" r="7.8"/><circle cx="850" cy="1387" r="7.8"/><circle cx="863.9" cy="1387" r="7.8"/><circle cx="870.9" cy="1387" r="7.8"/><circle cx="879.6" cy="1387" r="7.8"/><circle cx="888.3" cy="1387" r="7.8"/><circle cx="896.7" cy="1387" r="7.8"/>
<path d="M928.5 1070.5L936.3 1085.2L920.7 1085.2Z"/><path d="M944.1 1070.5L951.9 1085.2L936.3 1085.2Z"/><path d="M960.9 1070.5L968.7 1085.2L953.1 1085.2Z"/><path d="M977.3 1070.5L985.1 1085.2L969.5 1085.2Z"/><path d="M993.7 1070.5L1001.5 1085.2L985.9 1085.2Z"/><path d="M928.5 1147.9L936.3 1162.6L920.7 1162.6Z"/><path d="M944.1 1147.9L951.9 1162.6L936.3 1162.6Z"/><path d="M960.9 1147.9L968.7 1162.6L953.1 1162.6Z"/><path d="M977.3 1147.9L985.1 1162.6L969.5 1162.6Z"/><path d="M993.7 1147.9L1001.5 1162.6L985.9 1162.6Z"/><path d="M928.5 1226.4L936.3 1241.1L920.7 1241.1Z"/><path d="M937.2 1226.4L945 1241.1L929.4 1241.1Z"/><path d="M944.1 1226.4L951.9 1241.1L936.3 1241.1Z"/><path d="M952.9 1226.4L960.7 1241.1L945.1 1241.1Z"/><path d="M960.9 1226.4L968.7 1241.1L953.1 1241.1Z"/><path d="M968.6 1226.4L976.4 1241.1L960.8 1241.1Z"/><path d="M977.3 1226.4L985.1 1241.1L969.5 1241.1Z"/><path d="M986 1226.4L993.8 1241.1L978.2 1241.1Z"/><path d="M993.7 1226.4L1001.5 1241.1L985.9 1241.1Z"/><path d="M928.5 1303.8L936.3 1318.5L920.7 1318.5Z"/><path d="M938.9 1303.8L946.7 1318.5L931.1 1318.5Z"/><path d="M950.4 1303.8L958.2 1318.5L942.6 1318.5Z"/><path d="M960.9 1303.8L968.7 1318.5L953.1 1318.5Z"/><path d="M972 1303.8L979.8 1318.5L964.2 1318.5Z"/><path d="M982.5 1303.8L990.3 1318.5L974.7 1318.5Z"/><path d="M993.7 1303.8L1001.5 1318.5L985.9 1318.5Z"/><path d="M928.5 1381.6L936.3 1396.3L920.7 1396.3Z"/><path d="M938.9 1381.6L946.7 1396.3L931.1 1396.3Z"/><path d="M950.4 1381.6L958.2 1396.3L942.6 1396.3Z"/><path d="M960.9 1381.6L968.7 1396.3L953.1 1396.3Z"/><path d="M972 1381.6L979.8 1396.3L964.2 1396.3Z"/><path d="M982.5 1381.6L990.3 1396.3L974.7 1396.3Z"/><path d="M993.7 1381.6L1001.5 1396.3L985.9 1396.3Z"/>
<circle cx="1142.9" cy="1046.3" r="7.8"/><circle cx="1176.1" cy="1046.3" r="7.8"/><circle cx="1208.5" cy="1046.3" r="7.8"/><circle cx="1142.9" cy="1132.4" r="7.8"/><circle cx="1159.3" cy="1132.4" r="7.8"/><circle cx="1176.1" cy="1132.4" r="7.8"/><circle cx="1191.8" cy="1132.4" r="7.8"/><circle cx="1208.5" cy="1132.4" r="7.8"/><circle cx="1142.9" cy="1218.9" r="7.8"/><circle cx="1153.4" cy="1218.9" r="7.8"/><circle cx="1165.6" cy="1218.9" r="7.8"/><circle cx="1176.1" cy="1218.9" r="7.8"/><circle cx="1186.5" cy="1218.9" r="7.8"/><circle cx="1197.7" cy="1218.9" r="7.8"/><circle cx="1208.5" cy="1218.9" r="7.8"/><circle cx="1142.9" cy="1305.4" r="7.8"/><circle cx="1155.2" cy="1305.4" r="7.8"/><circle cx="1165.6" cy="1305.4" r="7.8"/><circle cx="1172.6" cy="1305.4" r="7.8"/><circle cx="1179.6" cy="1305.4" r="7.8"/><circle cx="1191.8" cy="1305.4" r="7.8"/><circle cx="1197" cy="1305.4" r="7.8"/><circle cx="1208.5" cy="1305.4" r="7.8"/><circle cx="1142.9" cy="1391.6" r="7.8"/><circle cx="1156.9" cy="1391.6" r="7.8"/><circle cx="1169.1" cy="1391.6" r="7.8"/><circle cx="1183.1" cy="1391.6" r="7.8"/><circle cx="1195.3" cy="1391.6" r="7.8"/><circle cx="1208.5" cy="1391.6" r="7.8"/>
<path d="M1239.9 1039.8L1247.7 1054.5L1232.1 1054.5Z"/><path d="M1261.5 1039.8L1269.3 1054.5L1253.7 1054.5Z"/><path d="M1283.5 1039.8L1291.3 1054.5L1275.7 1054.5Z"/><path d="M1305.8 1039.8L1313.6 1054.5L1298 1054.5Z"/><path d="M1239.9 1126L1247.7 1140.7L1232.1 1140.7Z"/><path d="M1261.5 1126L1269.3 1140.7L1253.7 1140.7Z"/><path d="M1283.5 1126L1291.3 1140.7L1275.7 1140.7Z"/><path d="M1305.8 1126L1313.6 1140.7L1298 1140.7Z"/><path d="M1239.9 1213.2L1247.7 1227.9L1232.1 1227.9Z"/><path d="M1251.1 1213.2L1258.9 1227.9L1243.3 1227.9Z"/><path d="M1261.5 1213.2L1269.3 1227.9L1253.7 1227.9Z"/><path d="M1273 1213.2L1280.8 1227.9L1265.2 1227.9Z"/><path d="M1283.5 1213.2L1291.3 1227.9L1275.7 1227.9Z"/><path d="M1294.7 1213.2L1302.5 1227.9L1286.9 1227.9Z"/><path d="M1305.8 1213.2L1313.6 1227.9L1298 1227.9Z"/><path d="M1239.9 1299.7L1247.7 1314.4L1232.1 1314.4Z"/><path d="M1247.6 1299.7L1255.4 1314.4L1239.8 1314.4Z"/><path d="M1261.5 1299.7L1269.3 1314.4L1253.7 1314.4Z"/><path d="M1273 1299.7L1280.8 1314.4L1265.2 1314.4Z"/><path d="M1283.5 1299.7L1291.3 1314.4L1275.7 1314.4Z"/><path d="M1294.7 1299.7L1302.5 1314.4L1286.9 1314.4Z"/><path d="M1305.8 1299.7L1313.6 1314.4L1298 1314.4Z"/><path d="M1239.9 1386.2L1247.7 1400.9L1232.1 1400.9Z"/><path d="M1251.1 1386.2L1258.9 1400.9L1243.3 1400.9Z"/><path d="M1261.5 1386.2L1269.3 1400.9L1253.7 1400.9Z"/><path d="M1273 1386.2L1280.8 1400.9L1265.2 1400.9Z"/><path d="M1283.5 1386.2L1291.3 1400.9L1275.7 1400.9Z"/><path d="M1294.7 1386.2L1302.5 1400.9L1286.9 1400.9Z"/><path d="M1305.8 1386.2L1313.6 1400.9L1298 1400.9Z"/>
<circle cx="1464.6" cy="1046.3" r="7.8"/><circle cx="1481.4" cy="1046.3" r="7.8"/><circle cx="1497.4" cy="1046.3" r="7.8"/><circle cx="1513.8" cy="1046.3" r="7.8"/><circle cx="1530.2" cy="1046.3" r="7.8"/><circle cx="1482.1" cy="1132.4" r="7.8"/><circle cx="1513.1" cy="1132.4" r="7.8"/><circle cx="1464.6" cy="1218.9" r="7.8"/><circle cx="1476.2" cy="1218.9" r="7.8"/><circle cx="1481.4" cy="1218.9" r="7.8"/><circle cx="1497.4" cy="1218.9" r="7.8"/><circle cx="1507.5" cy="1218.9" r="7.8"/><circle cx="1519.8" cy="1218.9" r="7.8"/><circle cx="1530.2" cy="1218.9" r="7.8"/><circle cx="1464.6" cy="1305.4" r="7.8"/><circle cx="1470.9" cy="1305.4" r="7.8"/><circle cx="1477.9" cy="1305.4" r="7.8"/><circle cx="1483.8" cy="1305.4" r="7.8"/><circle cx="1497.4" cy="1305.4" r="7.8"/><circle cx="1507.5" cy="1305.4" r="7.8"/><circle cx="1519.8" cy="1305.4" r="7.8"/><circle cx="1523.2" cy="1305.4" r="7.8"/><circle cx="1530.2" cy="1305.4" r="7.8"/><circle cx="1464.6" cy="1391.6" r="7.8"/><circle cx="1477.9" cy="1391.6" r="7.8"/><circle cx="1490.8" cy="1391.6" r="7.8"/><circle cx="1504.1" cy="1391.6" r="7.8"/><circle cx="1517.3" cy="1391.6" r="7.8"/><circle cx="1530.2" cy="1391.6" r="7.8"/>
<path d="M1561.6 1039.8L1569.4 1054.5L1553.8 1054.5Z"/><path d="M1578 1039.8L1585.8 1054.5L1570.2 1054.5Z"/><path d="M1594.7 1039.8L1602.5 1054.5L1586.9 1054.5Z"/><path d="M1611.1 1039.8L1618.9 1054.5L1603.3 1054.5Z"/><path d="M1627.2 1039.8L1635 1054.5L1619.4 1054.5Z"/><path d="M1561.6 1126L1569.4 1140.7L1553.8 1140.7Z"/><path d="M1578 1126L1585.8 1140.7L1570.2 1140.7Z"/><path d="M1594.7 1126L1602.5 1140.7L1586.9 1140.7Z"/><path d="M1611.1 1126L1618.9 1140.7L1603.3 1140.7Z"/><path d="M1627.2 1126L1635 1140.7L1619.4 1140.7Z"/><path d="M1561.6 1213.2L1569.4 1227.9L1553.8 1227.9Z"/><path d="M1571 1213.2L1578.8 1227.9L1563.2 1227.9Z"/><path d="M1580.8 1213.2L1588.6 1227.9L1573 1227.9Z"/><path d="M1589.5 1213.2L1597.3 1227.9L1581.7 1227.9Z"/><path d="M1599.3 1213.2L1607.1 1227.9L1591.5 1227.9Z"/><path d="M1608.7 1213.2L1616.5 1227.9L1600.9 1227.9Z"/><path d="M1617.4 1213.2L1625.2 1227.9L1609.6 1227.9Z"/><path d="M1627.2 1213.2L1635 1227.9L1619.4 1227.9Z"/><path d="M1561.6 1299.7L1569.4 1314.4L1553.8 1314.4Z"/><path d="M1568.6 1299.7L1576.4 1314.4L1560.8 1314.4Z"/><path d="M1578 1299.7L1585.8 1314.4L1570.2 1314.4Z"/><path d="M1586 1299.7L1593.8 1314.4L1578.2 1314.4Z"/><path d="M1594.7 1299.7L1602.5 1314.4L1586.9 1314.4Z"/><path d="M1602.8 1299.7L1610.6 1314.4L1595 1314.4Z"/><path d="M1611.1 1299.7L1618.9 1314.4L1603.3 1314.4Z"/><path d="M1619.2 1299.7L1627 1314.4L1611.4 1314.4Z"/><path d="M1627.2 1299.7L1635 1314.4L1619.4 1314.4Z"/><path d="M1561.6 1386.2L1569.4 1400.9L1553.8 1400.9Z"/><path d="M1574.9 1386.2L1582.7 1400.9L1567.1 1400.9Z"/><path d="M1587.8 1386.2L1595.6 1400.9L1580 1400.9Z"/><path d="M1601.7 1386.2L1609.5 1400.9L1593.9 1400.9Z"/><path d="M1614.6 1386.2L1622.4 1400.9L1606.8 1400.9Z"/><path d="M1627.2 1386.2L1635 1400.9L1619.4 1400.9Z"/>
<circle cx="1818" cy="1033" r="7.8"/><circle cx="1785.5" cy="1152.6" r="7.8"/><circle cx="1818" cy="1152.6" r="7.8"/><circle cx="1851.1" cy="1152.6" r="7.8"/><circle cx="1785.5" cy="1212.6" r="7.8"/><circle cx="1807.1" cy="1212.6" r="7.8"/><circle cx="1829.1" cy="1212.6" r="7.8"/><circle cx="1851.1" cy="1212.6" r="7.8"/><circle cx="1785.5" cy="1272.3" r="7.8"/><circle cx="1795.3" cy="1272.3" r="7.8"/><circle cx="1807.1" cy="1272.3" r="7.8"/><circle cx="1818" cy="1272.3" r="7.8"/><circle cx="1829.1" cy="1272.3" r="7.8"/><circle cx="1840.6" cy="1272.3" r="7.8"/><circle cx="1851.1" cy="1272.3" r="7.8"/><circle cx="1785.5" cy="1332.3" r="7.8"/><circle cx="1795.3" cy="1332.3" r="7.8"/><circle cx="1807.1" cy="1332.3" r="7.8"/><circle cx="1818" cy="1332.3" r="7.8"/><circle cx="1829.1" cy="1332.3" r="7.8"/><circle cx="1840.6" cy="1332.3" r="7.8"/><circle cx="1851.1" cy="1332.3" r="7.8"/><circle cx="1785.5" cy="1391.6" r="7.8"/><circle cx="1791.8" cy="1391.6" r="7.8"/><circle cx="1800.5" cy="1391.6" r="7.8"/><circle cx="1811" cy="1391.6" r="7.8"/><circle cx="1818" cy="1391.6" r="7.8"/><circle cx="1824.9" cy="1391.6" r="7.8"/><circle cx="1837.1" cy="1391.6" r="7.8"/><circle cx="1844.1" cy="1391.6" r="7.8"/><circle cx="1851.1" cy="1391.6" r="7.8"/>
<path d="M1882.5 1146.1L1890.3 1160.8L1874.7 1160.8Z"/><path d="M1904.1 1146.1L1911.9 1160.8L1896.3 1160.8Z"/><path d="M1926.1 1146.1L1933.9 1160.8L1918.3 1160.8Z"/><path d="M1948.1 1146.1L1955.9 1160.8L1940.3 1160.8Z"/><path d="M1899.2 1206.4L1907 1221.1L1891.4 1221.1Z"/><path d="M1931.3 1206.4L1939.1 1221.1L1923.5 1221.1Z"/><path d="M1882.5 1265L1890.3 1279.7L1874.7 1279.7Z"/><path d="M1895.4 1265L1903.2 1279.7L1887.6 1279.7Z"/><path d="M1908.6 1265L1916.4 1279.7L1900.8 1279.7Z"/><path d="M1921.9 1265L1929.7 1279.7L1914.1 1279.7Z"/><path d="M1934.8 1265L1942.6 1279.7L1927 1279.7Z"/><path d="M1948.1 1265L1955.9 1279.7L1940.3 1279.7Z"/><path d="M1882.5 1325.7L1890.3 1340.4L1874.7 1340.4Z"/><path d="M1892.9 1325.7L1900.7 1340.4L1885.1 1340.4Z"/><path d="M1899.9 1325.7L1907.7 1340.4L1892.1 1340.4Z"/><path d="M1908.6 1325.7L1916.4 1340.4L1900.8 1340.4Z"/><path d="M1915.6 1325.7L1923.4 1340.4L1907.8 1340.4Z"/><path d="M1922.6 1325.7L1930.4 1340.4L1914.8 1340.4Z"/><path d="M1931.3 1325.7L1939.1 1340.4L1923.5 1340.4Z"/><path d="M1940 1325.7L1947.8 1340.4L1932.2 1340.4Z"/><path d="M1948.1 1325.7L1955.9 1340.4L1940.3 1340.4Z"/><path d="M1882.5 1385.4L1890.3 1400.1L1874.7 1400.1Z"/><path d="M1895.4 1385.4L1903.2 1400.1L1887.6 1400.1Z"/><path d="M1908.6 1385.4L1916.4 1400.1L1900.8 1400.1Z"/><path d="M1921.9 1385.4L1929.7 1400.1L1914.1 1400.1Z"/><path d="M1934.8 1385.4L1942.6 1400.1L1927 1400.1Z"/><path d="M1948.1 1385.4L1955.9 1400.1L1940.3 1400.1Z"/>
</g>
<g fill="#000">
<text class="l k" transform="translate(133 110.3) scale(0.95 1)" font-size="30.6" text-anchor="end">80</text>
<text class="l k" transform="translate(133 174.2) scale(0.95 1)" font-size="30.6" text-anchor="end">40</text>
<text class="l k" transform="translate(133 219.5) scale(0.95 1)" font-size="30.6" text-anchor="end">8</text>
<text class="l k" transform="translate(133 287.9) scale(0.95 1)" font-size="30.6" text-anchor="end">6</text>
<text class="l k" transform="translate(133 355.2) scale(0.95 1)" font-size="30.6" text-anchor="end">4</text>
<text class="l k" transform="translate(133 422.5) scale(0.95 1)" font-size="30.6" text-anchor="end">2</text>
<text class="l k" transform="translate(133 489.8) scale(0.95 1)" font-size="30.6" text-anchor="end">0</text>
<text class="l k" transform="translate(233.7 525) scale(0.92 1)" font-size="30.4" text-anchor="middle">Q1</text>
<text class="l k" transform="translate(330.9 525) scale(0.92 1)" font-size="30.4" text-anchor="middle">Q4</text>
<text class="l k" transform="translate(452.9 109.2) scale(0.95 1)" font-size="30.6" text-anchor="end">40</text>
<text class="l k" transform="translate(452.9 176.5) scale(0.95 1)" font-size="30.6" text-anchor="end">20</text>
<text class="l k" transform="translate(452.9 219.5) scale(0.95 1)" font-size="30.6" text-anchor="end">4</text>
<text class="l k" transform="translate(452.9 288.7) scale(0.95 1)" font-size="30.6" text-anchor="end">3</text>
<text class="l k" transform="translate(452.9 356.7) scale(0.95 1)" font-size="30.6" text-anchor="end">2</text>
<text class="l k" transform="translate(452.9 425.1) scale(0.95 1)" font-size="30.6" text-anchor="end">1</text>
<text class="l k" transform="translate(452.9 493.6) scale(0.95 1)" font-size="30.6" text-anchor="end">0</text>
<text class="l k" transform="translate(553.4 528.4) scale(0.92 1)" font-size="30.4" text-anchor="middle">Q1</text>
<text class="l k" transform="translate(650.6 528.4) scale(0.92 1)" font-size="30.4" text-anchor="middle">Q4</text>
<text class="l k" transform="translate(765.1 102.1) scale(0.98 1)" font-size="30.6" text-anchor="end">400</text>
<text class="l k" transform="translate(765.1 174.6) scale(0.98 1)" font-size="30.6" text-anchor="end">200</text>
<text class="l k" transform="translate(765.1 244.9) scale(0.91 1)" font-size="30.6" text-anchor="end">30</text>
<text class="l k" transform="translate(765.1 327.2) scale(0.91 1)" font-size="30.6" text-anchor="end">20</text>
<text class="l k" transform="translate(765.1 409.4) scale(0.91 1)" font-size="30.6" text-anchor="end">10</text>
<text class="l k" transform="translate(765.1 490.6) scale(0.91 1)" font-size="30.6" text-anchor="end">0</text>
<text class="l k" transform="translate(863.4 525.4) scale(0.92 1)" font-size="30.4" text-anchor="middle">Q1</text>
<text class="l k" transform="translate(960.6 525.4) scale(0.92 1)" font-size="30.4" text-anchor="middle">Q4</text>
<text class="l k" transform="translate(1077.4 112.9) scale(0.95 1)" font-size="30.6" text-anchor="end">400</text>
<text class="l k" transform="translate(1077.4 180.6) scale(0.95 1)" font-size="30.6" text-anchor="end">200</text>
<text class="l k" transform="translate(1077.4 235.6) scale(0.91 1)" font-size="30.6" text-anchor="end">10</text>
<text class="l k" transform="translate(1077.4 366.4) scale(0.91 1)" font-size="30.6" text-anchor="end">5</text>
<text class="l k" transform="translate(1077.4 496.6) scale(0.91 1)" font-size="30.6" text-anchor="end">0</text>
<text class="l k" transform="translate(1178.6 531) scale(0.92 1)" font-size="30.4" text-anchor="middle">Q1</text>
<text class="l k" transform="translate(1275.9 531) scale(0.92 1)" font-size="30.4" text-anchor="middle">Q4</text>
<text class="l k" transform="translate(1402.8 107.3) scale(0.985 1)" font-size="30.6" text-anchor="end">400</text>
<text class="l k" transform="translate(1402.8 178.7) scale(0.985 1)" font-size="30.6" text-anchor="end">200</text>
<text class="l k" transform="translate(1402.8 207.5) scale(0.95 1)" font-size="30.6" text-anchor="end">50</text>
<text class="l k" transform="translate(1402.8 265.5) scale(0.95 1)" font-size="30.6" text-anchor="end">40</text>
<text class="l k" transform="translate(1402.8 322.7) scale(0.95 1)" font-size="30.6" text-anchor="end">30</text>
<text class="l k" transform="translate(1402.8 380.3) scale(0.95 1)" font-size="30.6" text-anchor="end">20</text>
<text class="l k" transform="translate(1402.8 437.5) scale(0.95 1)" font-size="30.6" text-anchor="end">10</text>
<text class="l k" transform="translate(1402.8 495.4) scale(0.95 1)" font-size="30.6" text-anchor="end">0</text>
<text class="l k" transform="translate(1505.2 530.2) scale(0.92 1)" font-size="30.4" text-anchor="middle">Q1</text>
<text class="l k" transform="translate(1602.4 530.2) scale(0.92 1)" font-size="30.4" text-anchor="middle">Q4</text>
<text class="l k" transform="translate(1721.6 103.6) scale(0.94 1)" font-size="30.6" text-anchor="end">200</text>
<text class="l k" transform="translate(1721.6 176.5) scale(0.94 1)" font-size="30.6" text-anchor="end">100</text>
<text class="l k" transform="translate(1721.6 284.2) scale(0.965 1)" font-size="30.6" text-anchor="end">40</text>
<text class="l k" transform="translate(1721.6 388.9) scale(0.965 1)" font-size="30.6" text-anchor="end">20</text>
<text class="l k" transform="translate(1721.6 492.8) scale(0.965 1)" font-size="30.6" text-anchor="end">0</text>
<text class="l k" transform="translate(1821.9 527.6) scale(0.92 1)" font-size="30.4" text-anchor="middle">Q1</text>
<text class="l k" transform="translate(1919.1 527.6) scale(0.92 1)" font-size="30.4" text-anchor="middle">Q4</text>
<text class="l k" transform="translate(135.5 563.3) scale(0.98 1)" font-size="30.6" text-anchor="end">50</text>
<text class="l k" transform="translate(135.5 641.1) scale(0.98 1)" font-size="30.6" text-anchor="end">40</text>
<text class="l k" transform="translate(135.5 718.8) scale(0.98 1)" font-size="30.6" text-anchor="end">30</text>
<text class="l k" transform="translate(135.5 796.3) scale(0.98 1)" font-size="30.6" text-anchor="end">20</text>
<text class="l k" transform="translate(135.5 874.1) scale(0.98 1)" font-size="30.6" text-anchor="end">10</text>
<text class="l k" transform="translate(135.5 951.5) scale(0.98 1)" font-size="30.6" text-anchor="end">0</text>
<text class="l k" transform="translate(236.1 986.2) scale(0.92 1)" font-size="30.4" text-anchor="middle">Q1</text>
<text class="l k" transform="translate(333.1 986.2) scale(0.92 1)" font-size="30.4" text-anchor="middle">Q4</text>
<text class="l k" transform="translate(447.2 560.8) scale(0.98 1)" font-size="30.6" text-anchor="end">40</text>
<text class="l k" transform="translate(447.2 657.8) scale(0.98 1)" font-size="30.6" text-anchor="end">30</text>
<text class="l k" transform="translate(447.2 754.4) scale(0.98 1)" font-size="30.6" text-anchor="end">20</text>
<text class="l k" transform="translate(447.2 851.4) scale(0.98 1)" font-size="30.6" text-anchor="end">10</text>
<text class="l k" transform="translate(447.2 948.7) scale(0.98 1)" font-size="30.6" text-anchor="end">0</text>
<text class="l k" transform="translate(548.3 983.1) scale(0.92 1)" font-size="30.4" text-anchor="middle">Q1</text>
<text class="l k" transform="translate(645.2 983.1) scale(0.92 1)" font-size="30.4" text-anchor="middle">Q4</text>
<text class="l k" transform="translate(766.5 604.4)" font-size="30.6" text-anchor="end">40</text>
<text class="l k" transform="translate(766.5 690.6)" font-size="30.6" text-anchor="end">30</text>
<text class="l k" transform="translate(766.5 777.1)" font-size="30.6" text-anchor="end">20</text>
<text class="l k" transform="translate(766.5 862.5)" font-size="30.6" text-anchor="end">10</text>
<text class="l k" transform="translate(766.5 948.7)" font-size="30.6" text-anchor="end">0</text>
<text class="l k" transform="translate(863.9 983.5) scale(0.92 1)" font-size="30.4" text-anchor="middle">Q1</text>
<text class="l k" transform="translate(960.9 983.5) scale(0.92 1)" font-size="30.4" text-anchor="middle">Q4</text>
<text class="l k" transform="translate(1077.9 624.7) scale(0.97 1)" font-size="30.6" text-anchor="end">40</text>
<text class="l k" transform="translate(1077.9 705.6) scale(0.97 1)" font-size="30.6" text-anchor="end">30</text>
<text class="l k" transform="translate(1077.9 786.5) scale(0.97 1)" font-size="30.6" text-anchor="end">20</text>
<text class="l k" transform="translate(1077.9 867.8) scale(0.97 1)" font-size="30.6" text-anchor="end">10</text>
<text class="l k" transform="translate(1077.9 948) scale(0.97 1)" font-size="30.6" text-anchor="end">0</text>
<text class="l k" transform="translate(1179.6 981.4) scale(0.92 1)" font-size="30.4" text-anchor="middle">Q1</text>
<text class="l k" transform="translate(1276.5 981.4) scale(0.92 1)" font-size="30.4" text-anchor="middle">Q4</text>
<text class="l k" transform="translate(1398.6 555.6) scale(0.98 1)" font-size="30.6" text-anchor="end">60</text>
<text class="l k" transform="translate(1398.6 684.7) scale(0.98 1)" font-size="30.6" text-anchor="end">40</text>
<text class="l k" transform="translate(1398.6 814.4) scale(0.98 1)" font-size="30.6" text-anchor="end">20</text>
<text class="l k" transform="translate(1398.6 943.8) scale(0.98 1)" font-size="30.6" text-anchor="end">0</text>
<text class="l k" transform="translate(1500.6 978.8) scale(0.92 1)" font-size="30.4" text-anchor="middle">Q1</text>
<text class="l k" transform="translate(1597.2 978.8) scale(0.92 1)" font-size="30.4" text-anchor="middle">Q4</text>
<text class="l k" transform="translate(1721 561.9) scale(0.98 1)" font-size="30.6" text-anchor="end">60</text>
<text class="l k" transform="translate(1721 690.9) scale(0.98 1)" font-size="30.6" text-anchor="end">40</text>
<text class="l k" transform="translate(1721 820) scale(0.98 1)" font-size="30.6" text-anchor="end">20</text>
<text class="l k" transform="translate(1721 948.7) scale(0.98 1)" font-size="30.6" text-anchor="end">0</text>
<text class="l k" transform="translate(1822.1 983.7) scale(0.92 1)" font-size="30.4" text-anchor="middle">Q1</text>
<text class="l k" transform="translate(1919.1 983.7) scale(0.92 1)" font-size="30.4" text-anchor="middle">Q4</text>
<text class="l k" transform="translate(135.6 1065.1) scale(0.92 1)" font-size="30.6" text-anchor="end">6</text>
<text class="l k" transform="translate(135.6 1176.1) scale(0.92 1)" font-size="30.6" text-anchor="end">4</text>
<text class="l k" transform="translate(135.6 1287) scale(0.92 1)" font-size="30.6" text-anchor="end">2</text>
<text class="l k" transform="translate(135.6 1397.5) scale(0.92 1)" font-size="30.6" text-anchor="end">0</text>
<text class="l k" transform="translate(237.2 1431.1) scale(0.92 1)" font-size="30.4" text-anchor="middle">Q1</text>
<text class="l k" transform="translate(334.1 1431.1) scale(0.92 1)" font-size="30.4" text-anchor="middle">Q4</text>
<text class="l k" transform="translate(447.2 1064.4) scale(0.92 1)" font-size="30.6" text-anchor="end">6</text>
<text class="l k" transform="translate(447.2 1175.4) scale(0.92 1)" font-size="30.6" text-anchor="end">4</text>
<text class="l k" transform="translate(447.2 1286.6) scale(0.92 1)" font-size="30.6" text-anchor="end">2</text>
<text class="l k" transform="translate(447.2 1397.5) scale(0.92 1)" font-size="30.6" text-anchor="end">0</text>
<text class="l k" transform="translate(548.3 1431.1) scale(0.92 1)" font-size="30.4" text-anchor="middle">Q1</text>
<text class="l k" transform="translate(645.2 1431.1) scale(0.92 1)" font-size="30.4" text-anchor="middle">Q4</text>
<text class="l k" transform="translate(765.1 1010.4) scale(0.92 1)" font-size="30.6" text-anchor="end">5</text>
<text class="l k" transform="translate(765.1 1088.2) scale(0.92 1)" font-size="30.6" text-anchor="end">4</text>
<text class="l k" transform="translate(765.1 1165.6) scale(0.92 1)" font-size="30.6" text-anchor="end">3</text>
<text class="l k" transform="translate(765.1 1243.4) scale(0.92 1)" font-size="30.6" text-anchor="end">2</text>
<text class="l k" transform="translate(765.1 1320.8) scale(0.92 1)" font-size="30.6" text-anchor="end">1</text>
<text class="l k" transform="translate(765.1 1398.2) scale(0.92 1)" font-size="30.6" text-anchor="end">0</text>
<text class="l k" transform="translate(863.9 1431.8) scale(0.92 1)" font-size="30.4" text-anchor="middle">Q1</text>
<text class="l k" transform="translate(960.9 1431.8) scale(0.92 1)" font-size="30.4" text-anchor="middle">Q4</text>
<text class="l k" transform="translate(1075 1056.8) scale(0.92 1)" font-size="30.6" text-anchor="end">4</text>
<text class="l k" transform="translate(1075 1143.6) scale(0.92 1)" font-size="30.6" text-anchor="end">3</text>
<text class="l k" transform="translate(1075 1230.1) scale(0.92 1)" font-size="30.6" text-anchor="end">2</text>
<text class="l k" transform="translate(1075 1316.6) scale(0.92 1)" font-size="30.6" text-anchor="end">1</text>
<text class="l k" transform="translate(1075 1402.8) scale(0.92 1)" font-size="30.6" text-anchor="end">0</text>
<text class="l k" transform="translate(1176.1 1436.2) scale(0.92 1)" font-size="30.4" text-anchor="middle">Q1</text>
<text class="l k" transform="translate(1273 1436.2) scale(0.92 1)" font-size="30.4" text-anchor="middle">Q4</text>
<text class="l k" transform="translate(1396.7 1056.8) scale(0.92 1)" font-size="30.6" text-anchor="end">4</text>
<text class="l k" transform="translate(1396.7 1143.6) scale(0.92 1)" font-size="30.6" text-anchor="end">3</text>
<text class="l k" transform="translate(1396.7 1230.1) scale(0.92 1)" font-size="30.6" text-anchor="end">2</text>
<text class="l k" transform="translate(1396.7 1402.8) scale(0.92 1)" font-size="30.6" text-anchor="end">0</text>
<text class="l k" transform="translate(1497.4 1436.2) scale(0.92 1)" font-size="30.4" text-anchor="middle">Q1</text>
<text class="l k" transform="translate(1594.7 1436.2) scale(0.92 1)" font-size="30.4" text-anchor="middle">Q4</text>
<text class="l k" transform="translate(1717.5 1044.2) scale(0.92 1)" font-size="30.6" text-anchor="end">6</text>
<text class="l k" transform="translate(1717.5 1163.8) scale(0.92 1)" font-size="30.6" text-anchor="end">4</text>
<text class="l k" transform="translate(1717.5 1283.5) scale(0.92 1)" font-size="30.6" text-anchor="end">2</text>
<text class="l k" transform="translate(1717.5 1402.8) scale(0.92 1)" font-size="30.6" text-anchor="end">0</text>
<text class="l k" transform="translate(1818 1436.2) scale(0.92 1)" font-size="30.4" text-anchor="middle">Q1</text>
<text class="l k" transform="translate(1915.6 1436.2) scale(0.92 1)" font-size="30.4" text-anchor="middle">Q4</text>
<text class="l" transform="translate(292.5 34.8)" font-size="38.5" text-anchor="middle">IL-1β</text>
<text class="l" transform="translate(621.5 35.3)" font-size="38.5" text-anchor="middle">IL-2</text>
<text class="l" transform="translate(918.5 36)" font-size="38.5" text-anchor="middle">IL-6</text>
<text class="l" transform="translate(1248 35.2)" font-size="38.5" text-anchor="middle">IFN-γ</text>
<text class="l" transform="translate(1579 34)" font-size="38.5" text-anchor="middle">CCL2</text>
<text class="l" transform="translate(1883 37)" font-size="38.5" text-anchor="middle">CCL5</text>
<text class="d" transform="translate(6.5 74.3) scale(0.958 1)" font-size="41">(a)</text>
<text class="d" transform="translate(2.7 567.8) scale(0.958 1)" font-size="41">(b)</text>
<text class="d" transform="translate(5.7 1033.3) scale(0.958 1)" font-size="41">(c)</text>
<text class="l" transform="translate(91.5 303.6) rotate(-90)" font-size="32.4" text-anchor="middle">seizure frequency (/mo)</text>
<text class="l" transform="translate(90.4 744) rotate(-90)" font-size="32.3" text-anchor="middle">Epilepsy duration (months)</text>
<text class="l" transform="translate(96.5 1198.2) rotate(-90)" font-size="32.4" text-anchor="middle">Number of AED</text>
<text class="l k" transform="translate(1362.8 1295.6) scale(0.92 1)" font-size="30.6" text-anchor="middle">1</text>
<text class="s" transform="translate(914 1049.6)" font-size="44" text-anchor="middle">*</text>
</g>
</svg>
</body>
</html>
